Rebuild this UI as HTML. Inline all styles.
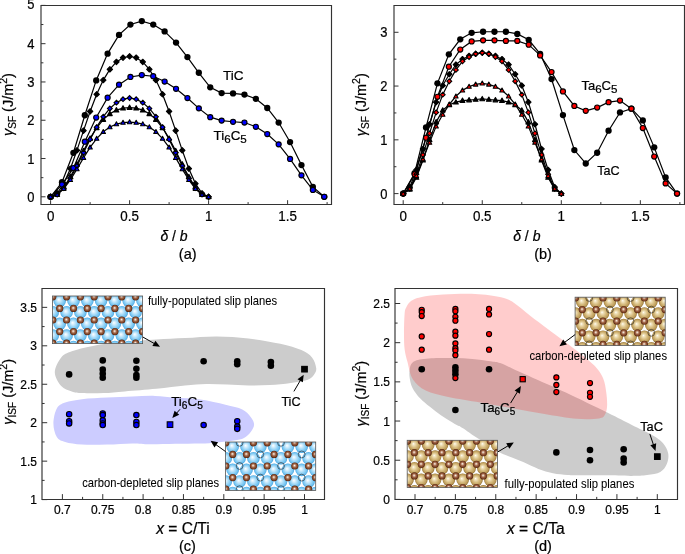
<!DOCTYPE html>
<html><head><meta charset="utf-8"><style>
html,body{margin:0;padding:0;background:#fff;width:685px;height:554px;overflow:hidden}
svg{display:block;will-change:transform}
text{font-family:"Liberation Sans",sans-serif;stroke:#000;stroke-width:0.22px}
</style></head><body>
<svg width="685" height="554" viewBox="0 0 685 554" font-family="Liberation Sans, sans-serif">
<defs>
<radialGradient id="gBlue" cx="0.5" cy="0.5" r="0.5" fx="0.42" fy="0.4">
<stop offset="0" stop-color="#ffffff"/><stop offset="0.15" stop-color="#e6f5fe"/><stop offset="0.5" stop-color="#a6dbf8"/><stop offset="0.85" stop-color="#6cc0f0"/><stop offset="1" stop-color="#4aa2dc"/></radialGradient>
<radialGradient id="gTan" cx="0.5" cy="0.5" r="0.5" fx="0.42" fy="0.4">
<stop offset="0" stop-color="#ffffff"/><stop offset="0.15" stop-color="#f4e8c6"/><stop offset="0.5" stop-color="#d9bf84"/><stop offset="0.85" stop-color="#bc9a56"/><stop offset="1" stop-color="#8e6e34"/></radialGradient>
<radialGradient id="gBrown" cx="0.5" cy="0.5" r="0.5" fx="0.45" fy="0.42">
<stop offset="0" stop-color="#fdf8f5"/><stop offset="0.2" stop-color="#dcbcaa"/><stop offset="0.5" stop-color="#a06646"/><stop offset="0.8" stop-color="#7c4026"/><stop offset="1" stop-color="#4e220c"/></radialGradient>
</defs>
<rect width="685" height="554" fill="#fff"/>
<line x1="41" y1="196.8" x2="45.5" y2="196.8" stroke="#333" stroke-width="1"/>
<text transform="translate(34.4,201.9) scale(0.9,1)" font-size="14.4" text-anchor="end" >0</text>
<line x1="41" y1="158.52" x2="45.5" y2="158.52" stroke="#333" stroke-width="1"/>
<text transform="translate(34.4,163.62) scale(0.9,1)" font-size="14.4" text-anchor="end" >1</text>
<line x1="41" y1="120.24" x2="45.5" y2="120.24" stroke="#333" stroke-width="1"/>
<text transform="translate(34.4,125.34) scale(0.9,1)" font-size="14.4" text-anchor="end" >2</text>
<line x1="41" y1="81.96" x2="45.5" y2="81.96" stroke="#333" stroke-width="1"/>
<text transform="translate(34.4,87.06) scale(0.9,1)" font-size="14.4" text-anchor="end" >3</text>
<line x1="41" y1="43.68" x2="45.5" y2="43.68" stroke="#333" stroke-width="1"/>
<text transform="translate(34.4,48.78) scale(0.9,1)" font-size="14.4" text-anchor="end" >4</text>
<line x1="41" y1="5.4" x2="45.5" y2="5.4" stroke="#333" stroke-width="1"/>
<text transform="translate(34.4,9.3) scale(0.9,1)" font-size="14.4" text-anchor="end" >5</text>
<line x1="41" y1="177.66" x2="43.4" y2="177.66" stroke="#333" stroke-width="1"/>
<line x1="41" y1="139.38" x2="43.4" y2="139.38" stroke="#333" stroke-width="1"/>
<line x1="41" y1="101.1" x2="43.4" y2="101.1" stroke="#333" stroke-width="1"/>
<line x1="41" y1="62.82" x2="43.4" y2="62.82" stroke="#333" stroke-width="1"/>
<line x1="41" y1="24.54" x2="43.4" y2="24.54" stroke="#333" stroke-width="1"/>
<line x1="50.6" y1="204.5" x2="50.6" y2="200.2" stroke="#333" stroke-width="1"/>
<text transform="translate(50.6,221.4) scale(0.93,1)" font-size="14.4" text-anchor="middle" >0</text>
<line x1="129.6" y1="204.5" x2="129.6" y2="200.2" stroke="#333" stroke-width="1"/>
<text transform="translate(129.6,221.4) scale(0.93,1)" font-size="14.4" text-anchor="middle" >0.5</text>
<line x1="208.6" y1="204.5" x2="208.6" y2="200.2" stroke="#333" stroke-width="1"/>
<text transform="translate(208.6,221.4) scale(0.93,1)" font-size="14.4" text-anchor="middle" >1</text>
<line x1="287.6" y1="204.5" x2="287.6" y2="200.2" stroke="#333" stroke-width="1"/>
<text transform="translate(287.6,221.4) scale(0.93,1)" font-size="14.4" text-anchor="middle" >1.5</text>
<line x1="90.1" y1="204.5" x2="90.1" y2="202.1" stroke="#333" stroke-width="1"/>
<line x1="169.1" y1="204.5" x2="169.1" y2="202.1" stroke="#333" stroke-width="1"/>
<line x1="248.1" y1="204.5" x2="248.1" y2="202.1" stroke="#333" stroke-width="1"/>
<line x1="327.1" y1="204.5" x2="327.1" y2="202.1" stroke="#333" stroke-width="1"/>
<path d="M41,4.9 V205 M40.4,204.5 H332 M331.5,205 V5 M332,5.5 H40.4" fill="none" stroke="#333" stroke-width="1.15"/>
<polyline points="50.6,196.8 62,182.25 73.41,152.78 84.81,115.26 96.21,80.43 107.61,53.63 119.02,34.88 130.42,24.54 141.82,21.09 153.22,24.54 164.63,31.43 176.03,42.53 187.43,57.08 198.83,72.77 210.24,87.32 221.64,93.06 233.04,93.44 244.45,94.59 255.85,98.8 267.25,107.99 278.65,122.54 290.06,142.06 301.46,165.03 312.86,186.85 324.26,196.8" fill="none" stroke="#000" stroke-width="1.2"/>
<circle cx="50.6" cy="196.8" r="3.15" fill="#000"/>
<circle cx="62" cy="182.25" r="3.15" fill="#000"/>
<circle cx="73.41" cy="152.78" r="3.15" fill="#000"/>
<circle cx="84.81" cy="115.26" r="3.15" fill="#000"/>
<circle cx="96.21" cy="80.43" r="3.15" fill="#000"/>
<circle cx="107.61" cy="53.63" r="3.15" fill="#000"/>
<circle cx="119.02" cy="34.88" r="3.15" fill="#000"/>
<circle cx="130.42" cy="24.54" r="3.15" fill="#000"/>
<circle cx="141.82" cy="21.09" r="3.15" fill="#000"/>
<circle cx="153.22" cy="24.54" r="3.15" fill="#000"/>
<circle cx="164.63" cy="31.43" r="3.15" fill="#000"/>
<circle cx="176.03" cy="42.53" r="3.15" fill="#000"/>
<circle cx="187.43" cy="57.08" r="3.15" fill="#000"/>
<circle cx="198.83" cy="72.77" r="3.15" fill="#000"/>
<circle cx="210.24" cy="87.32" r="3.15" fill="#000"/>
<circle cx="221.64" cy="93.06" r="3.15" fill="#000"/>
<circle cx="233.04" cy="93.44" r="3.15" fill="#000"/>
<circle cx="244.45" cy="94.59" r="3.15" fill="#000"/>
<circle cx="255.85" cy="98.8" r="3.15" fill="#000"/>
<circle cx="267.25" cy="107.99" r="3.15" fill="#000"/>
<circle cx="278.65" cy="122.54" r="3.15" fill="#000"/>
<circle cx="290.06" cy="142.06" r="3.15" fill="#000"/>
<circle cx="301.46" cy="165.03" r="3.15" fill="#000"/>
<circle cx="312.86" cy="186.85" r="3.15" fill="#000"/>
<circle cx="324.26" cy="196.8" r="3.15" fill="#000"/>
<polyline points="50.6,196.8 57.18,193.39 63.77,183.61 70.35,168.67 76.93,150.34 83.52,130.63 90.1,111.44 96.68,94.27 103.27,80.09 109.85,69.33 116.43,61.94 123.02,57.69 129.6,56.31 136.18,57.69 142.77,61.94 149.35,69.33 155.93,80.09 162.52,94.27 169.1,111.44 175.68,130.63 182.27,150.34 188.85,168.67 195.43,183.61 202.02,193.39 208.6,196.8" fill="none" stroke="#000" stroke-width="1.2"/>
<polygon points="50.6,194.1 53.3,196.8 50.6,199.5 47.9,196.8" fill="#000" stroke="#000" stroke-width="1.1" stroke-linejoin="round"/>
<polygon points="57.18,190.69 59.88,193.39 57.18,196.09 54.48,193.39" fill="#000" stroke="#000" stroke-width="1.1" stroke-linejoin="round"/>
<polygon points="63.77,180.91 66.47,183.61 63.77,186.31 61.07,183.61" fill="#000" stroke="#000" stroke-width="1.1" stroke-linejoin="round"/>
<polygon points="70.35,165.97 73.05,168.67 70.35,171.37 67.65,168.67" fill="#000" stroke="#000" stroke-width="1.1" stroke-linejoin="round"/>
<polygon points="76.93,147.64 79.63,150.34 76.93,153.04 74.23,150.34" fill="#000" stroke="#000" stroke-width="1.1" stroke-linejoin="round"/>
<polygon points="83.52,127.93 86.22,130.63 83.52,133.33 80.82,130.63" fill="#000" stroke="#000" stroke-width="1.1" stroke-linejoin="round"/>
<polygon points="90.1,108.74 92.8,111.44 90.1,114.14 87.4,111.44" fill="#000" stroke="#000" stroke-width="1.1" stroke-linejoin="round"/>
<polygon points="96.68,91.57 99.38,94.27 96.68,96.97 93.98,94.27" fill="#000" stroke="#000" stroke-width="1.1" stroke-linejoin="round"/>
<polygon points="103.27,77.39 105.97,80.09 103.27,82.79 100.57,80.09" fill="#000" stroke="#000" stroke-width="1.1" stroke-linejoin="round"/>
<polygon points="109.85,66.63 112.55,69.33 109.85,72.03 107.15,69.33" fill="#000" stroke="#000" stroke-width="1.1" stroke-linejoin="round"/>
<polygon points="116.43,59.24 119.13,61.94 116.43,64.64 113.73,61.94" fill="#000" stroke="#000" stroke-width="1.1" stroke-linejoin="round"/>
<polygon points="123.02,54.99 125.72,57.69 123.02,60.39 120.32,57.69" fill="#000" stroke="#000" stroke-width="1.1" stroke-linejoin="round"/>
<polygon points="129.6,53.61 132.3,56.31 129.6,59.01 126.9,56.31" fill="#000" stroke="#000" stroke-width="1.1" stroke-linejoin="round"/>
<polygon points="136.18,54.99 138.88,57.69 136.18,60.39 133.48,57.69" fill="#000" stroke="#000" stroke-width="1.1" stroke-linejoin="round"/>
<polygon points="142.77,59.24 145.47,61.94 142.77,64.64 140.07,61.94" fill="#000" stroke="#000" stroke-width="1.1" stroke-linejoin="round"/>
<polygon points="149.35,66.63 152.05,69.33 149.35,72.03 146.65,69.33" fill="#000" stroke="#000" stroke-width="1.1" stroke-linejoin="round"/>
<polygon points="155.93,77.39 158.63,80.09 155.93,82.79 153.23,80.09" fill="#000" stroke="#000" stroke-width="1.1" stroke-linejoin="round"/>
<polygon points="162.52,91.57 165.22,94.27 162.52,96.97 159.82,94.27" fill="#000" stroke="#000" stroke-width="1.1" stroke-linejoin="round"/>
<polygon points="169.1,108.74 171.8,111.44 169.1,114.14 166.4,111.44" fill="#000" stroke="#000" stroke-width="1.1" stroke-linejoin="round"/>
<polygon points="175.68,127.93 178.38,130.63 175.68,133.33 172.98,130.63" fill="#000" stroke="#000" stroke-width="1.1" stroke-linejoin="round"/>
<polygon points="182.27,147.64 184.97,150.34 182.27,153.04 179.57,150.34" fill="#000" stroke="#000" stroke-width="1.1" stroke-linejoin="round"/>
<polygon points="188.85,165.97 191.55,168.67 188.85,171.37 186.15,168.67" fill="#000" stroke="#000" stroke-width="1.1" stroke-linejoin="round"/>
<polygon points="195.43,180.91 198.13,183.61 195.43,186.31 192.73,183.61" fill="#000" stroke="#000" stroke-width="1.1" stroke-linejoin="round"/>
<polygon points="202.02,190.69 204.72,193.39 202.02,196.09 199.32,193.39" fill="#000" stroke="#000" stroke-width="1.1" stroke-linejoin="round"/>
<polygon points="208.6,194.1 211.3,196.8 208.6,199.5 205.9,196.8" fill="#000" stroke="#000" stroke-width="1.1" stroke-linejoin="round"/>
<polyline points="50.6,196.8 57.18,194.36 63.77,187.38 70.35,176.85 76.93,164.17 83.52,150.89 90.1,138.42 96.68,127.8 103.27,119.57 109.85,113.78 116.43,110.14 123.02,108.2 129.6,107.61 136.18,108.2 142.77,110.14 149.35,113.78 155.93,119.57 162.52,127.8 169.1,138.42 175.68,150.89 182.27,164.17 188.85,176.85 195.43,187.38 202.02,194.36 208.6,196.8" fill="none" stroke="#000" stroke-width="1.2"/>
<polygon points="50.6,194.28 53,198.6 48.2,198.6" fill="#000" stroke="#000" stroke-width="1.1" stroke-linejoin="round"/>
<polygon points="57.18,191.84 59.58,196.16 54.78,196.16" fill="#000" stroke="#000" stroke-width="1.1" stroke-linejoin="round"/>
<polygon points="63.77,184.86 66.17,189.18 61.37,189.18" fill="#000" stroke="#000" stroke-width="1.1" stroke-linejoin="round"/>
<polygon points="70.35,174.33 72.75,178.65 67.95,178.65" fill="#000" stroke="#000" stroke-width="1.1" stroke-linejoin="round"/>
<polygon points="76.93,161.65 79.33,165.97 74.53,165.97" fill="#000" stroke="#000" stroke-width="1.1" stroke-linejoin="round"/>
<polygon points="83.52,148.37 85.92,152.69 81.12,152.69" fill="#000" stroke="#000" stroke-width="1.1" stroke-linejoin="round"/>
<polygon points="90.1,135.9 92.5,140.22 87.7,140.22" fill="#000" stroke="#000" stroke-width="1.1" stroke-linejoin="round"/>
<polygon points="96.68,125.28 99.08,129.6 94.28,129.6" fill="#000" stroke="#000" stroke-width="1.1" stroke-linejoin="round"/>
<polygon points="103.27,117.05 105.67,121.37 100.87,121.37" fill="#000" stroke="#000" stroke-width="1.1" stroke-linejoin="round"/>
<polygon points="109.85,111.26 112.25,115.58 107.45,115.58" fill="#000" stroke="#000" stroke-width="1.1" stroke-linejoin="round"/>
<polygon points="116.43,107.62 118.83,111.94 114.03,111.94" fill="#000" stroke="#000" stroke-width="1.1" stroke-linejoin="round"/>
<polygon points="123.02,105.68 125.42,110 120.62,110" fill="#000" stroke="#000" stroke-width="1.1" stroke-linejoin="round"/>
<polygon points="129.6,105.09 132,109.41 127.2,109.41" fill="#000" stroke="#000" stroke-width="1.1" stroke-linejoin="round"/>
<polygon points="136.18,105.68 138.58,110 133.78,110" fill="#000" stroke="#000" stroke-width="1.1" stroke-linejoin="round"/>
<polygon points="142.77,107.62 145.17,111.94 140.37,111.94" fill="#000" stroke="#000" stroke-width="1.1" stroke-linejoin="round"/>
<polygon points="149.35,111.26 151.75,115.58 146.95,115.58" fill="#000" stroke="#000" stroke-width="1.1" stroke-linejoin="round"/>
<polygon points="155.93,117.05 158.33,121.37 153.53,121.37" fill="#000" stroke="#000" stroke-width="1.1" stroke-linejoin="round"/>
<polygon points="162.52,125.28 164.92,129.6 160.12,129.6" fill="#000" stroke="#000" stroke-width="1.1" stroke-linejoin="round"/>
<polygon points="169.1,135.9 171.5,140.22 166.7,140.22" fill="#000" stroke="#000" stroke-width="1.1" stroke-linejoin="round"/>
<polygon points="175.68,148.37 178.08,152.69 173.28,152.69" fill="#000" stroke="#000" stroke-width="1.1" stroke-linejoin="round"/>
<polygon points="182.27,161.65 184.67,165.97 179.87,165.97" fill="#000" stroke="#000" stroke-width="1.1" stroke-linejoin="round"/>
<polygon points="188.85,174.33 191.25,178.65 186.45,178.65" fill="#000" stroke="#000" stroke-width="1.1" stroke-linejoin="round"/>
<polygon points="195.43,184.86 197.83,189.18 193.03,189.18" fill="#000" stroke="#000" stroke-width="1.1" stroke-linejoin="round"/>
<polygon points="202.02,191.84 204.42,196.16 199.62,196.16" fill="#000" stroke="#000" stroke-width="1.1" stroke-linejoin="round"/>
<polygon points="208.6,194.28 211,198.6 206.2,198.6" fill="#000" stroke="#000" stroke-width="1.1" stroke-linejoin="round"/>
<polyline points="50.6,196.8 62,184.55 73.41,168.09 84.81,141.68 96.21,117.56 107.61,97.65 119.02,84.64 130.42,76.98 141.82,75.07 153.22,76.22 164.63,81.58 176.03,88.85 187.43,98.04 198.83,108.37 210.24,117.18 221.64,120.62 233.04,121.77 244.45,122.54 255.85,126.75 267.25,134.02 278.65,144.36 290.06,158.9 301.46,175.36 312.86,189.91 324.26,196.8" fill="none" stroke="#000" stroke-width="1.2"/>
<circle cx="50.6" cy="196.8" r="2.55" fill="#0000ff" stroke="#000" stroke-width="1.15"/>
<circle cx="62" cy="184.55" r="2.55" fill="#0000ff" stroke="#000" stroke-width="1.15"/>
<circle cx="73.41" cy="168.09" r="2.55" fill="#0000ff" stroke="#000" stroke-width="1.15"/>
<circle cx="84.81" cy="141.68" r="2.55" fill="#0000ff" stroke="#000" stroke-width="1.15"/>
<circle cx="96.21" cy="117.56" r="2.55" fill="#0000ff" stroke="#000" stroke-width="1.15"/>
<circle cx="107.61" cy="97.65" r="2.55" fill="#0000ff" stroke="#000" stroke-width="1.15"/>
<circle cx="119.02" cy="84.64" r="2.55" fill="#0000ff" stroke="#000" stroke-width="1.15"/>
<circle cx="130.42" cy="76.98" r="2.55" fill="#0000ff" stroke="#000" stroke-width="1.15"/>
<circle cx="141.82" cy="75.07" r="2.55" fill="#0000ff" stroke="#000" stroke-width="1.15"/>
<circle cx="153.22" cy="76.22" r="2.55" fill="#0000ff" stroke="#000" stroke-width="1.15"/>
<circle cx="164.63" cy="81.58" r="2.55" fill="#0000ff" stroke="#000" stroke-width="1.15"/>
<circle cx="176.03" cy="88.85" r="2.55" fill="#0000ff" stroke="#000" stroke-width="1.15"/>
<circle cx="187.43" cy="98.04" r="2.55" fill="#0000ff" stroke="#000" stroke-width="1.15"/>
<circle cx="198.83" cy="108.37" r="2.55" fill="#0000ff" stroke="#000" stroke-width="1.15"/>
<circle cx="210.24" cy="117.18" r="2.55" fill="#0000ff" stroke="#000" stroke-width="1.15"/>
<circle cx="221.64" cy="120.62" r="2.55" fill="#0000ff" stroke="#000" stroke-width="1.15"/>
<circle cx="233.04" cy="121.77" r="2.55" fill="#0000ff" stroke="#000" stroke-width="1.15"/>
<circle cx="244.45" cy="122.54" r="2.55" fill="#0000ff" stroke="#000" stroke-width="1.15"/>
<circle cx="255.85" cy="126.75" r="2.55" fill="#0000ff" stroke="#000" stroke-width="1.15"/>
<circle cx="267.25" cy="134.02" r="2.55" fill="#0000ff" stroke="#000" stroke-width="1.15"/>
<circle cx="278.65" cy="144.36" r="2.55" fill="#0000ff" stroke="#000" stroke-width="1.15"/>
<circle cx="290.06" cy="158.9" r="2.55" fill="#0000ff" stroke="#000" stroke-width="1.15"/>
<circle cx="301.46" cy="175.36" r="2.55" fill="#0000ff" stroke="#000" stroke-width="1.15"/>
<circle cx="312.86" cy="189.91" r="2.55" fill="#0000ff" stroke="#000" stroke-width="1.15"/>
<circle cx="324.26" cy="196.8" r="2.55" fill="#0000ff" stroke="#000" stroke-width="1.15"/>
<polyline points="50.6,196.8 57.18,194.58 63.77,188.17 70.35,178.32 76.93,166.08 83.52,152.7 90.1,139.38 96.68,127.14 103.27,116.7 109.85,108.48 116.43,102.64 123.02,99.18 129.6,98.04 136.18,99.18 142.77,102.64 149.35,108.48 155.93,116.7 162.52,127.14 169.1,139.38 175.68,152.7 182.27,166.08 188.85,178.32 195.43,188.17 202.02,194.58 208.6,196.8" fill="none" stroke="#000" stroke-width="1.2"/>
<polygon points="50.6,194.4 53,196.8 50.6,199.2 48.2,196.8" fill="#0000ff" stroke="#000" stroke-width="1.1"/>
<polygon points="57.18,192.18 59.58,194.58 57.18,196.98 54.78,194.58" fill="#0000ff" stroke="#000" stroke-width="1.1"/>
<polygon points="63.77,185.77 66.17,188.17 63.77,190.57 61.37,188.17" fill="#0000ff" stroke="#000" stroke-width="1.1"/>
<polygon points="70.35,175.92 72.75,178.32 70.35,180.72 67.95,178.32" fill="#0000ff" stroke="#000" stroke-width="1.1"/>
<polygon points="76.93,163.68 79.33,166.08 76.93,168.48 74.53,166.08" fill="#0000ff" stroke="#000" stroke-width="1.1"/>
<polygon points="83.52,150.3 85.92,152.7 83.52,155.1 81.12,152.7" fill="#0000ff" stroke="#000" stroke-width="1.1"/>
<polygon points="90.1,136.98 92.5,139.38 90.1,141.78 87.7,139.38" fill="#0000ff" stroke="#000" stroke-width="1.1"/>
<polygon points="96.68,124.74 99.08,127.14 96.68,129.54 94.28,127.14" fill="#0000ff" stroke="#000" stroke-width="1.1"/>
<polygon points="103.27,114.3 105.67,116.7 103.27,119.1 100.87,116.7" fill="#0000ff" stroke="#000" stroke-width="1.1"/>
<polygon points="109.85,106.08 112.25,108.48 109.85,110.88 107.45,108.48" fill="#0000ff" stroke="#000" stroke-width="1.1"/>
<polygon points="116.43,100.24 118.83,102.64 116.43,105.04 114.03,102.64" fill="#0000ff" stroke="#000" stroke-width="1.1"/>
<polygon points="123.02,96.78 125.42,99.18 123.02,101.58 120.62,99.18" fill="#0000ff" stroke="#000" stroke-width="1.1"/>
<polygon points="129.6,95.64 132,98.04 129.6,100.44 127.2,98.04" fill="#0000ff" stroke="#000" stroke-width="1.1"/>
<polygon points="136.18,96.78 138.58,99.18 136.18,101.58 133.78,99.18" fill="#0000ff" stroke="#000" stroke-width="1.1"/>
<polygon points="142.77,100.24 145.17,102.64 142.77,105.04 140.37,102.64" fill="#0000ff" stroke="#000" stroke-width="1.1"/>
<polygon points="149.35,106.08 151.75,108.48 149.35,110.88 146.95,108.48" fill="#0000ff" stroke="#000" stroke-width="1.1"/>
<polygon points="155.93,114.3 158.33,116.7 155.93,119.1 153.53,116.7" fill="#0000ff" stroke="#000" stroke-width="1.1"/>
<polygon points="162.52,124.74 164.92,127.14 162.52,129.54 160.12,127.14" fill="#0000ff" stroke="#000" stroke-width="1.1"/>
<polygon points="169.1,136.98 171.5,139.38 169.1,141.78 166.7,139.38" fill="#0000ff" stroke="#000" stroke-width="1.1"/>
<polygon points="175.68,150.3 178.08,152.7 175.68,155.1 173.28,152.7" fill="#0000ff" stroke="#000" stroke-width="1.1"/>
<polygon points="182.27,163.68 184.67,166.08 182.27,168.48 179.87,166.08" fill="#0000ff" stroke="#000" stroke-width="1.1"/>
<polygon points="188.85,175.92 191.25,178.32 188.85,180.72 186.45,178.32" fill="#0000ff" stroke="#000" stroke-width="1.1"/>
<polygon points="195.43,185.77 197.83,188.17 195.43,190.57 193.03,188.17" fill="#0000ff" stroke="#000" stroke-width="1.1"/>
<polygon points="202.02,192.18 204.42,194.58 202.02,196.98 199.62,194.58" fill="#0000ff" stroke="#000" stroke-width="1.1"/>
<polygon points="208.6,194.4 211,196.8 208.6,199.2 206.2,196.8" fill="#0000ff" stroke="#000" stroke-width="1.1"/>
<polyline points="50.6,196.8 57.18,194.72 63.77,188.79 70.35,179.84 76.93,169.09 83.52,157.89 90.1,147.42 96.68,138.57 103.27,131.77 109.85,127.06 116.43,124.14 123.02,122.62 129.6,122.15 136.18,122.62 142.77,124.14 149.35,127.06 155.93,131.77 162.52,138.57 169.1,147.42 175.68,157.89 182.27,169.09 188.85,179.84 195.43,188.79 202.02,194.72 208.6,196.8" fill="none" stroke="#000" stroke-width="1.2"/>
<polygon points="50.6,194.49 52.8,198.45 48.4,198.45" fill="#0000ff" stroke="#000" stroke-width="1.1" stroke-linejoin="round"/>
<polygon points="57.18,192.41 59.38,196.37 54.98,196.37" fill="#0000ff" stroke="#000" stroke-width="1.1" stroke-linejoin="round"/>
<polygon points="63.77,186.48 65.97,190.44 61.57,190.44" fill="#0000ff" stroke="#000" stroke-width="1.1" stroke-linejoin="round"/>
<polygon points="70.35,177.53 72.55,181.49 68.15,181.49" fill="#0000ff" stroke="#000" stroke-width="1.1" stroke-linejoin="round"/>
<polygon points="76.93,166.78 79.13,170.74 74.73,170.74" fill="#0000ff" stroke="#000" stroke-width="1.1" stroke-linejoin="round"/>
<polygon points="83.52,155.58 85.72,159.54 81.32,159.54" fill="#0000ff" stroke="#000" stroke-width="1.1" stroke-linejoin="round"/>
<polygon points="90.1,145.11 92.3,149.07 87.9,149.07" fill="#0000ff" stroke="#000" stroke-width="1.1" stroke-linejoin="round"/>
<polygon points="96.68,136.26 98.88,140.22 94.48,140.22" fill="#0000ff" stroke="#000" stroke-width="1.1" stroke-linejoin="round"/>
<polygon points="103.27,129.46 105.47,133.42 101.07,133.42" fill="#0000ff" stroke="#000" stroke-width="1.1" stroke-linejoin="round"/>
<polygon points="109.85,124.75 112.05,128.71 107.65,128.71" fill="#0000ff" stroke="#000" stroke-width="1.1" stroke-linejoin="round"/>
<polygon points="116.43,121.83 118.63,125.79 114.23,125.79" fill="#0000ff" stroke="#000" stroke-width="1.1" stroke-linejoin="round"/>
<polygon points="123.02,120.31 125.22,124.27 120.82,124.27" fill="#0000ff" stroke="#000" stroke-width="1.1" stroke-linejoin="round"/>
<polygon points="129.6,119.84 131.8,123.8 127.4,123.8" fill="#0000ff" stroke="#000" stroke-width="1.1" stroke-linejoin="round"/>
<polygon points="136.18,120.31 138.38,124.27 133.98,124.27" fill="#0000ff" stroke="#000" stroke-width="1.1" stroke-linejoin="round"/>
<polygon points="142.77,121.83 144.97,125.79 140.57,125.79" fill="#0000ff" stroke="#000" stroke-width="1.1" stroke-linejoin="round"/>
<polygon points="149.35,124.75 151.55,128.71 147.15,128.71" fill="#0000ff" stroke="#000" stroke-width="1.1" stroke-linejoin="round"/>
<polygon points="155.93,129.46 158.13,133.42 153.73,133.42" fill="#0000ff" stroke="#000" stroke-width="1.1" stroke-linejoin="round"/>
<polygon points="162.52,136.26 164.72,140.22 160.32,140.22" fill="#0000ff" stroke="#000" stroke-width="1.1" stroke-linejoin="round"/>
<polygon points="169.1,145.11 171.3,149.07 166.9,149.07" fill="#0000ff" stroke="#000" stroke-width="1.1" stroke-linejoin="round"/>
<polygon points="175.68,155.58 177.88,159.54 173.48,159.54" fill="#0000ff" stroke="#000" stroke-width="1.1" stroke-linejoin="round"/>
<polygon points="182.27,166.78 184.47,170.74 180.07,170.74" fill="#0000ff" stroke="#000" stroke-width="1.1" stroke-linejoin="round"/>
<polygon points="188.85,177.53 191.05,181.49 186.65,181.49" fill="#0000ff" stroke="#000" stroke-width="1.1" stroke-linejoin="round"/>
<polygon points="195.43,186.48 197.63,190.44 193.23,190.44" fill="#0000ff" stroke="#000" stroke-width="1.1" stroke-linejoin="round"/>
<polygon points="202.02,192.41 204.22,196.37 199.82,196.37" fill="#0000ff" stroke="#000" stroke-width="1.1" stroke-linejoin="round"/>
<polygon points="208.6,194.49 210.8,198.45 206.4,198.45" fill="#0000ff" stroke="#000" stroke-width="1.1" stroke-linejoin="round"/>
<text x="223" y="79.8" font-size="13.5" text-anchor="start" >TiC</text>
<text x="213.6" y="140.4" font-size="13.3">Ti<tspan font-size="11.6" dy="2.9">6</tspan><tspan dy="-2.9">C</tspan><tspan font-size="11.6" dy="2.9">5</tspan></text>
<text transform="translate(12.8,104.5) rotate(-90)" font-size="14.5" text-anchor="middle"><tspan font-style="italic">γ</tspan><tspan font-size="10" dy="3">SF</tspan><tspan dy="-3"> (J/m</tspan><tspan font-size="10.5" dy="-6">2</tspan><tspan dy="6">)</tspan></text>
<text x="174" y="241.3" font-size="14" text-anchor="middle" font-style="italic">δ<tspan font-style="normal"> / </tspan>b</text>
<text x="187.7" y="258.8" font-size="14.5" text-anchor="middle" >(a)</text>
<line x1="394" y1="193.6" x2="398.5" y2="193.6" stroke="#333" stroke-width="1"/>
<text transform="translate(387.4,198.7) scale(0.9,1)" font-size="14.4" text-anchor="end" >0</text>
<line x1="394" y1="139.83" x2="398.5" y2="139.83" stroke="#333" stroke-width="1"/>
<text transform="translate(387.4,144.93) scale(0.9,1)" font-size="14.4" text-anchor="end" >1</text>
<line x1="394" y1="86.06" x2="398.5" y2="86.06" stroke="#333" stroke-width="1"/>
<text transform="translate(387.4,91.16) scale(0.9,1)" font-size="14.4" text-anchor="end" >2</text>
<line x1="394" y1="32.29" x2="398.5" y2="32.29" stroke="#333" stroke-width="1"/>
<text transform="translate(387.4,37.39) scale(0.9,1)" font-size="14.4" text-anchor="end" >3</text>
<line x1="394" y1="166.72" x2="396.4" y2="166.72" stroke="#333" stroke-width="1"/>
<line x1="394" y1="112.94" x2="396.4" y2="112.94" stroke="#333" stroke-width="1"/>
<line x1="394" y1="59.17" x2="396.4" y2="59.17" stroke="#333" stroke-width="1"/>
<line x1="403.2" y1="204.5" x2="403.2" y2="200.2" stroke="#333" stroke-width="1"/>
<text transform="translate(403.2,221.4) scale(0.93,1)" font-size="14.4" text-anchor="middle" >0</text>
<line x1="482.25" y1="204.5" x2="482.25" y2="200.2" stroke="#333" stroke-width="1"/>
<text transform="translate(482.25,221.4) scale(0.93,1)" font-size="14.4" text-anchor="middle" >0.5</text>
<line x1="561.3" y1="204.5" x2="561.3" y2="200.2" stroke="#333" stroke-width="1"/>
<text transform="translate(561.3,221.4) scale(0.93,1)" font-size="14.4" text-anchor="middle" >1</text>
<line x1="640.35" y1="204.5" x2="640.35" y2="200.2" stroke="#333" stroke-width="1"/>
<text transform="translate(640.35,221.4) scale(0.93,1)" font-size="14.4" text-anchor="middle" >1.5</text>
<line x1="442.72" y1="204.5" x2="442.72" y2="202.1" stroke="#333" stroke-width="1"/>
<line x1="521.77" y1="204.5" x2="521.77" y2="202.1" stroke="#333" stroke-width="1"/>
<line x1="600.83" y1="204.5" x2="600.83" y2="202.1" stroke="#333" stroke-width="1"/>
<line x1="679.88" y1="204.5" x2="679.88" y2="202.1" stroke="#333" stroke-width="1"/>
<path d="M394,4.9 V205 M393.4,204.5 H685 M684.5,205 V5 M685,5.5 H393.4" fill="none" stroke="#333" stroke-width="1.15"/>
<polyline points="403.2,193.6 414.61,173.17 426.02,127.46 437.43,83.37 448.84,54.34 460.25,39.28 471.66,32.83 483.07,31.75 494.48,31.75 505.89,31.75 517.3,33.9 528.71,39.82 540.12,53.8 551.53,79.07 562.94,115.1 574.35,150.05 585.76,163.49 597.17,152.73 608.58,130.69 619.99,112.41 631.4,108.64 642.81,120.47 654.22,147.36 665.63,177.47 677.04,193.6" fill="none" stroke="#000" stroke-width="1.2"/>
<circle cx="403.2" cy="193.6" r="3.15" fill="#000"/>
<circle cx="414.61" cy="173.17" r="3.15" fill="#000"/>
<circle cx="426.02" cy="127.46" r="3.15" fill="#000"/>
<circle cx="437.43" cy="83.37" r="3.15" fill="#000"/>
<circle cx="448.84" cy="54.34" r="3.15" fill="#000"/>
<circle cx="460.25" cy="39.28" r="3.15" fill="#000"/>
<circle cx="471.66" cy="32.83" r="3.15" fill="#000"/>
<circle cx="483.07" cy="31.75" r="3.15" fill="#000"/>
<circle cx="494.48" cy="31.75" r="3.15" fill="#000"/>
<circle cx="505.89" cy="31.75" r="3.15" fill="#000"/>
<circle cx="517.3" cy="33.9" r="3.15" fill="#000"/>
<circle cx="528.71" cy="39.82" r="3.15" fill="#000"/>
<circle cx="540.12" cy="53.8" r="3.15" fill="#000"/>
<circle cx="551.53" cy="79.07" r="3.15" fill="#000"/>
<circle cx="562.94" cy="115.1" r="3.15" fill="#000"/>
<circle cx="574.35" cy="150.05" r="3.15" fill="#000"/>
<circle cx="585.76" cy="163.49" r="3.15" fill="#000"/>
<circle cx="597.17" cy="152.73" r="3.15" fill="#000"/>
<circle cx="608.58" cy="130.69" r="3.15" fill="#000"/>
<circle cx="619.99" cy="112.41" r="3.15" fill="#000"/>
<circle cx="631.4" cy="108.64" r="3.15" fill="#000"/>
<circle cx="642.81" cy="120.47" r="3.15" fill="#000"/>
<circle cx="654.22" cy="147.36" r="3.15" fill="#000"/>
<circle cx="665.63" cy="177.47" r="3.15" fill="#000"/>
<circle cx="677.04" cy="193.6" r="3.15" fill="#000"/>
<polyline points="403.2,193.6 409.79,187.15 416.38,169.94 422.96,148.97 429.55,124.24 436.14,102.19 442.72,85.52 449.31,74.23 455.9,64.55 462.49,59.17 469.07,55.95 475.66,53.8 482.25,52.72 488.84,53.8 495.43,55.95 502.01,59.17 508.6,64.55 515.19,74.23 521.77,85.52 528.36,102.19 534.95,124.24 541.54,148.97 548.12,169.94 554.71,187.15 561.3,193.6" fill="none" stroke="#000" stroke-width="1.2"/>
<polygon points="403.2,190.9 405.9,193.6 403.2,196.3 400.5,193.6" fill="#000" stroke="#000" stroke-width="1.1" stroke-linejoin="round"/>
<polygon points="409.79,184.45 412.49,187.15 409.79,189.85 407.09,187.15" fill="#000" stroke="#000" stroke-width="1.1" stroke-linejoin="round"/>
<polygon points="416.38,167.24 419.07,169.94 416.38,172.64 413.68,169.94" fill="#000" stroke="#000" stroke-width="1.1" stroke-linejoin="round"/>
<polygon points="422.96,146.27 425.66,148.97 422.96,151.67 420.26,148.97" fill="#000" stroke="#000" stroke-width="1.1" stroke-linejoin="round"/>
<polygon points="429.55,121.54 432.25,124.24 429.55,126.94 426.85,124.24" fill="#000" stroke="#000" stroke-width="1.1" stroke-linejoin="round"/>
<polygon points="436.14,99.49 438.84,102.19 436.14,104.89 433.44,102.19" fill="#000" stroke="#000" stroke-width="1.1" stroke-linejoin="round"/>
<polygon points="442.72,82.82 445.42,85.52 442.72,88.22 440.02,85.52" fill="#000" stroke="#000" stroke-width="1.1" stroke-linejoin="round"/>
<polygon points="449.31,71.53 452.01,74.23 449.31,76.93 446.61,74.23" fill="#000" stroke="#000" stroke-width="1.1" stroke-linejoin="round"/>
<polygon points="455.9,61.85 458.6,64.55 455.9,67.25 453.2,64.55" fill="#000" stroke="#000" stroke-width="1.1" stroke-linejoin="round"/>
<polygon points="462.49,56.47 465.19,59.17 462.49,61.87 459.79,59.17" fill="#000" stroke="#000" stroke-width="1.1" stroke-linejoin="round"/>
<polygon points="469.07,53.25 471.77,55.95 469.07,58.65 466.38,55.95" fill="#000" stroke="#000" stroke-width="1.1" stroke-linejoin="round"/>
<polygon points="475.66,51.1 478.36,53.8 475.66,56.5 472.96,53.8" fill="#000" stroke="#000" stroke-width="1.1" stroke-linejoin="round"/>
<polygon points="482.25,50.02 484.95,52.72 482.25,55.42 479.55,52.72" fill="#000" stroke="#000" stroke-width="1.1" stroke-linejoin="round"/>
<polygon points="488.84,51.1 491.54,53.8 488.84,56.5 486.14,53.8" fill="#000" stroke="#000" stroke-width="1.1" stroke-linejoin="round"/>
<polygon points="495.43,53.25 498.12,55.95 495.43,58.65 492.73,55.95" fill="#000" stroke="#000" stroke-width="1.1" stroke-linejoin="round"/>
<polygon points="502.01,56.47 504.71,59.17 502.01,61.87 499.31,59.17" fill="#000" stroke="#000" stroke-width="1.1" stroke-linejoin="round"/>
<polygon points="508.6,61.85 511.3,64.55 508.6,67.25 505.9,64.55" fill="#000" stroke="#000" stroke-width="1.1" stroke-linejoin="round"/>
<polygon points="515.19,71.53 517.89,74.23 515.19,76.93 512.49,74.23" fill="#000" stroke="#000" stroke-width="1.1" stroke-linejoin="round"/>
<polygon points="521.77,82.82 524.48,85.52 521.77,88.22 519.07,85.52" fill="#000" stroke="#000" stroke-width="1.1" stroke-linejoin="round"/>
<polygon points="528.36,99.49 531.06,102.19 528.36,104.89 525.66,102.19" fill="#000" stroke="#000" stroke-width="1.1" stroke-linejoin="round"/>
<polygon points="534.95,121.54 537.65,124.24 534.95,126.94 532.25,124.24" fill="#000" stroke="#000" stroke-width="1.1" stroke-linejoin="round"/>
<polygon points="541.54,146.27 544.24,148.97 541.54,151.67 538.84,148.97" fill="#000" stroke="#000" stroke-width="1.1" stroke-linejoin="round"/>
<polygon points="548.12,167.24 550.83,169.94 548.12,172.64 545.42,169.94" fill="#000" stroke="#000" stroke-width="1.1" stroke-linejoin="round"/>
<polygon points="554.71,184.45 557.41,187.15 554.71,189.85 552.01,187.15" fill="#000" stroke="#000" stroke-width="1.1" stroke-linejoin="round"/>
<polygon points="561.3,190.9 564,193.6 561.3,196.3 558.6,193.6" fill="#000" stroke="#000" stroke-width="1.1" stroke-linejoin="round"/>
<polyline points="403.2,193.6 409.79,189.3 416.38,177.47 422.96,160.26 429.55,139.83 436.14,122.09 442.72,110.26 449.31,104.88 455.9,102.19 462.49,100.58 469.07,100.04 475.66,99.5 482.25,98.96 488.84,99.5 495.43,100.04 502.01,100.58 508.6,102.19 515.19,104.88 521.77,110.26 528.36,122.09 534.95,139.83 541.54,160.26 548.12,177.47 554.71,189.3 561.3,193.6" fill="none" stroke="#000" stroke-width="1.2"/>
<polygon points="403.2,191.08 405.6,195.4 400.8,195.4" fill="#000" stroke="#000" stroke-width="1.1" stroke-linejoin="round"/>
<polygon points="409.79,186.78 412.19,191.1 407.39,191.1" fill="#000" stroke="#000" stroke-width="1.1" stroke-linejoin="round"/>
<polygon points="416.38,174.95 418.77,179.27 413.98,179.27" fill="#000" stroke="#000" stroke-width="1.1" stroke-linejoin="round"/>
<polygon points="422.96,157.74 425.36,162.06 420.56,162.06" fill="#000" stroke="#000" stroke-width="1.1" stroke-linejoin="round"/>
<polygon points="429.55,137.31 431.95,141.63 427.15,141.63" fill="#000" stroke="#000" stroke-width="1.1" stroke-linejoin="round"/>
<polygon points="436.14,119.57 438.54,123.89 433.74,123.89" fill="#000" stroke="#000" stroke-width="1.1" stroke-linejoin="round"/>
<polygon points="442.72,107.74 445.12,112.06 440.32,112.06" fill="#000" stroke="#000" stroke-width="1.1" stroke-linejoin="round"/>
<polygon points="449.31,102.36 451.71,106.68 446.91,106.68" fill="#000" stroke="#000" stroke-width="1.1" stroke-linejoin="round"/>
<polygon points="455.9,99.67 458.3,103.99 453.5,103.99" fill="#000" stroke="#000" stroke-width="1.1" stroke-linejoin="round"/>
<polygon points="462.49,98.06 464.89,102.38 460.09,102.38" fill="#000" stroke="#000" stroke-width="1.1" stroke-linejoin="round"/>
<polygon points="469.07,97.52 471.47,101.84 466.68,101.84" fill="#000" stroke="#000" stroke-width="1.1" stroke-linejoin="round"/>
<polygon points="475.66,96.98 478.06,101.3 473.26,101.3" fill="#000" stroke="#000" stroke-width="1.1" stroke-linejoin="round"/>
<polygon points="482.25,96.44 484.65,100.76 479.85,100.76" fill="#000" stroke="#000" stroke-width="1.1" stroke-linejoin="round"/>
<polygon points="488.84,96.98 491.24,101.3 486.44,101.3" fill="#000" stroke="#000" stroke-width="1.1" stroke-linejoin="round"/>
<polygon points="495.43,97.52 497.82,101.84 493.03,101.84" fill="#000" stroke="#000" stroke-width="1.1" stroke-linejoin="round"/>
<polygon points="502.01,98.06 504.41,102.38 499.61,102.38" fill="#000" stroke="#000" stroke-width="1.1" stroke-linejoin="round"/>
<polygon points="508.6,99.67 511,103.99 506.2,103.99" fill="#000" stroke="#000" stroke-width="1.1" stroke-linejoin="round"/>
<polygon points="515.19,102.36 517.59,106.68 512.79,106.68" fill="#000" stroke="#000" stroke-width="1.1" stroke-linejoin="round"/>
<polygon points="521.77,107.74 524.17,112.06 519.38,112.06" fill="#000" stroke="#000" stroke-width="1.1" stroke-linejoin="round"/>
<polygon points="528.36,119.57 530.76,123.89 525.96,123.89" fill="#000" stroke="#000" stroke-width="1.1" stroke-linejoin="round"/>
<polygon points="534.95,137.31 537.35,141.63 532.55,141.63" fill="#000" stroke="#000" stroke-width="1.1" stroke-linejoin="round"/>
<polygon points="541.54,157.74 543.94,162.06 539.14,162.06" fill="#000" stroke="#000" stroke-width="1.1" stroke-linejoin="round"/>
<polygon points="548.12,174.95 550.52,179.27 545.73,179.27" fill="#000" stroke="#000" stroke-width="1.1" stroke-linejoin="round"/>
<polygon points="554.71,186.78 557.11,191.1 552.31,191.1" fill="#000" stroke="#000" stroke-width="1.1" stroke-linejoin="round"/>
<polygon points="561.3,191.08 563.7,195.4 558.9,195.4" fill="#000" stroke="#000" stroke-width="1.1" stroke-linejoin="round"/>
<polyline points="403.2,193.6 414.61,174.24 426.02,137.68 437.43,96.81 448.84,66.7 460.25,49.5 471.66,41.43 483.07,40.36 494.48,40.36 505.89,40.89 517.3,40.89 528.71,44.66 540.12,55.41 551.53,72.08 562.94,91.44 574.35,105.95 585.76,110.79 597.17,107.57 608.58,102.19 619.99,100.58 631.4,108.64 642.81,128 654.22,156.5 665.63,183.38 677.04,193.6" fill="none" stroke="#000" stroke-width="1.2"/>
<circle cx="403.2" cy="193.6" r="2.55" fill="#ff0000" stroke="#000" stroke-width="1.15"/>
<circle cx="414.61" cy="174.24" r="2.55" fill="#ff0000" stroke="#000" stroke-width="1.15"/>
<circle cx="426.02" cy="137.68" r="2.55" fill="#ff0000" stroke="#000" stroke-width="1.15"/>
<circle cx="437.43" cy="96.81" r="2.55" fill="#ff0000" stroke="#000" stroke-width="1.15"/>
<circle cx="448.84" cy="66.7" r="2.55" fill="#ff0000" stroke="#000" stroke-width="1.15"/>
<circle cx="460.25" cy="49.5" r="2.55" fill="#ff0000" stroke="#000" stroke-width="1.15"/>
<circle cx="471.66" cy="41.43" r="2.55" fill="#ff0000" stroke="#000" stroke-width="1.15"/>
<circle cx="483.07" cy="40.36" r="2.55" fill="#ff0000" stroke="#000" stroke-width="1.15"/>
<circle cx="494.48" cy="40.36" r="2.55" fill="#ff0000" stroke="#000" stroke-width="1.15"/>
<circle cx="505.89" cy="40.89" r="2.55" fill="#ff0000" stroke="#000" stroke-width="1.15"/>
<circle cx="517.3" cy="40.89" r="2.55" fill="#ff0000" stroke="#000" stroke-width="1.15"/>
<circle cx="528.71" cy="44.66" r="2.55" fill="#ff0000" stroke="#000" stroke-width="1.15"/>
<circle cx="540.12" cy="55.41" r="2.55" fill="#ff0000" stroke="#000" stroke-width="1.15"/>
<circle cx="551.53" cy="72.08" r="2.55" fill="#ff0000" stroke="#000" stroke-width="1.15"/>
<circle cx="562.94" cy="91.44" r="2.55" fill="#ff0000" stroke="#000" stroke-width="1.15"/>
<circle cx="574.35" cy="105.95" r="2.55" fill="#ff0000" stroke="#000" stroke-width="1.15"/>
<circle cx="585.76" cy="110.79" r="2.55" fill="#ff0000" stroke="#000" stroke-width="1.15"/>
<circle cx="597.17" cy="107.57" r="2.55" fill="#ff0000" stroke="#000" stroke-width="1.15"/>
<circle cx="608.58" cy="102.19" r="2.55" fill="#ff0000" stroke="#000" stroke-width="1.15"/>
<circle cx="619.99" cy="100.58" r="2.55" fill="#ff0000" stroke="#000" stroke-width="1.15"/>
<circle cx="631.4" cy="108.64" r="2.55" fill="#ff0000" stroke="#000" stroke-width="1.15"/>
<circle cx="642.81" cy="128" r="2.55" fill="#ff0000" stroke="#000" stroke-width="1.15"/>
<circle cx="654.22" cy="156.5" r="2.55" fill="#ff0000" stroke="#000" stroke-width="1.15"/>
<circle cx="665.63" cy="183.38" r="2.55" fill="#ff0000" stroke="#000" stroke-width="1.15"/>
<circle cx="677.04" cy="193.6" r="2.55" fill="#ff0000" stroke="#000" stroke-width="1.15"/>
<polyline points="403.2,193.6 409.79,188.76 416.38,174.24 422.96,154.89 429.55,133.38 436.14,112.41 442.72,94.66 449.31,81.22 455.9,69.93 462.49,61.33 469.07,57.02 475.66,53.8 482.25,52.72 488.84,53.8 495.43,57.02 502.01,61.33 508.6,69.93 515.19,81.22 521.77,94.66 528.36,112.41 534.95,133.38 541.54,154.89 548.12,174.24 554.71,188.76 561.3,193.6" fill="none" stroke="#000" stroke-width="1.2"/>
<polygon points="403.2,191.2 405.6,193.6 403.2,196 400.8,193.6" fill="#ff0000" stroke="#000" stroke-width="1.1"/>
<polygon points="409.79,186.36 412.19,188.76 409.79,191.16 407.39,188.76" fill="#ff0000" stroke="#000" stroke-width="1.1"/>
<polygon points="416.38,171.84 418.77,174.24 416.38,176.64 413.98,174.24" fill="#ff0000" stroke="#000" stroke-width="1.1"/>
<polygon points="422.96,152.49 425.36,154.89 422.96,157.29 420.56,154.89" fill="#ff0000" stroke="#000" stroke-width="1.1"/>
<polygon points="429.55,130.98 431.95,133.38 429.55,135.78 427.15,133.38" fill="#ff0000" stroke="#000" stroke-width="1.1"/>
<polygon points="436.14,110.01 438.54,112.41 436.14,114.81 433.74,112.41" fill="#ff0000" stroke="#000" stroke-width="1.1"/>
<polygon points="442.72,92.26 445.12,94.66 442.72,97.06 440.32,94.66" fill="#ff0000" stroke="#000" stroke-width="1.1"/>
<polygon points="449.31,78.82 451.71,81.22 449.31,83.62 446.91,81.22" fill="#ff0000" stroke="#000" stroke-width="1.1"/>
<polygon points="455.9,67.53 458.3,69.93 455.9,72.33 453.5,69.93" fill="#ff0000" stroke="#000" stroke-width="1.1"/>
<polygon points="462.49,58.93 464.89,61.33 462.49,63.73 460.09,61.33" fill="#ff0000" stroke="#000" stroke-width="1.1"/>
<polygon points="469.07,54.62 471.47,57.02 469.07,59.42 466.68,57.02" fill="#ff0000" stroke="#000" stroke-width="1.1"/>
<polygon points="475.66,51.4 478.06,53.8 475.66,56.2 473.26,53.8" fill="#ff0000" stroke="#000" stroke-width="1.1"/>
<polygon points="482.25,50.32 484.65,52.72 482.25,55.12 479.85,52.72" fill="#ff0000" stroke="#000" stroke-width="1.1"/>
<polygon points="488.84,51.4 491.24,53.8 488.84,56.2 486.44,53.8" fill="#ff0000" stroke="#000" stroke-width="1.1"/>
<polygon points="495.43,54.62 497.82,57.02 495.43,59.42 493.03,57.02" fill="#ff0000" stroke="#000" stroke-width="1.1"/>
<polygon points="502.01,58.93 504.41,61.33 502.01,63.73 499.61,61.33" fill="#ff0000" stroke="#000" stroke-width="1.1"/>
<polygon points="508.6,67.53 511,69.93 508.6,72.33 506.2,69.93" fill="#ff0000" stroke="#000" stroke-width="1.1"/>
<polygon points="515.19,78.82 517.59,81.22 515.19,83.62 512.79,81.22" fill="#ff0000" stroke="#000" stroke-width="1.1"/>
<polygon points="521.77,92.26 524.17,94.66 521.77,97.06 519.38,94.66" fill="#ff0000" stroke="#000" stroke-width="1.1"/>
<polygon points="528.36,110.01 530.76,112.41 528.36,114.81 525.96,112.41" fill="#ff0000" stroke="#000" stroke-width="1.1"/>
<polygon points="534.95,130.98 537.35,133.38 534.95,135.78 532.55,133.38" fill="#ff0000" stroke="#000" stroke-width="1.1"/>
<polygon points="541.54,152.49 543.94,154.89 541.54,157.29 539.14,154.89" fill="#ff0000" stroke="#000" stroke-width="1.1"/>
<polygon points="548.12,171.84 550.52,174.24 548.12,176.64 545.73,174.24" fill="#ff0000" stroke="#000" stroke-width="1.1"/>
<polygon points="554.71,186.36 557.11,188.76 554.71,191.16 552.31,188.76" fill="#ff0000" stroke="#000" stroke-width="1.1"/>
<polygon points="561.3,191.2 563.7,193.6 561.3,196 558.9,193.6" fill="#ff0000" stroke="#000" stroke-width="1.1"/>
<polyline points="403.2,193.6 409.79,188.76 416.38,175.86 422.96,159.19 429.55,142.52 436.14,126.39 442.72,114.56 449.31,104.34 455.9,96.28 462.49,90.36 469.07,86.6 475.66,84.45 482.25,83.37 488.84,84.45 495.43,86.6 502.01,90.36 508.6,96.28 515.19,104.34 521.77,114.56 528.36,126.39 534.95,142.52 541.54,159.19 548.12,175.86 554.71,188.76 561.3,193.6" fill="none" stroke="#000" stroke-width="1.2"/>
<polygon points="403.2,191.29 405.4,195.25 401,195.25" fill="#ff0000" stroke="#000" stroke-width="1.1" stroke-linejoin="round"/>
<polygon points="409.79,186.45 411.99,190.41 407.59,190.41" fill="#ff0000" stroke="#000" stroke-width="1.1" stroke-linejoin="round"/>
<polygon points="416.38,173.55 418.57,177.51 414.18,177.51" fill="#ff0000" stroke="#000" stroke-width="1.1" stroke-linejoin="round"/>
<polygon points="422.96,156.88 425.16,160.84 420.76,160.84" fill="#ff0000" stroke="#000" stroke-width="1.1" stroke-linejoin="round"/>
<polygon points="429.55,140.21 431.75,144.17 427.35,144.17" fill="#ff0000" stroke="#000" stroke-width="1.1" stroke-linejoin="round"/>
<polygon points="436.14,124.08 438.34,128.04 433.94,128.04" fill="#ff0000" stroke="#000" stroke-width="1.1" stroke-linejoin="round"/>
<polygon points="442.72,112.25 444.92,116.21 440.52,116.21" fill="#ff0000" stroke="#000" stroke-width="1.1" stroke-linejoin="round"/>
<polygon points="449.31,102.03 451.51,105.99 447.11,105.99" fill="#ff0000" stroke="#000" stroke-width="1.1" stroke-linejoin="round"/>
<polygon points="455.9,93.97 458.1,97.93 453.7,97.93" fill="#ff0000" stroke="#000" stroke-width="1.1" stroke-linejoin="round"/>
<polygon points="462.49,88.05 464.69,92.01 460.29,92.01" fill="#ff0000" stroke="#000" stroke-width="1.1" stroke-linejoin="round"/>
<polygon points="469.07,84.29 471.27,88.25 466.88,88.25" fill="#ff0000" stroke="#000" stroke-width="1.1" stroke-linejoin="round"/>
<polygon points="475.66,82.14 477.86,86.1 473.46,86.1" fill="#ff0000" stroke="#000" stroke-width="1.1" stroke-linejoin="round"/>
<polygon points="482.25,81.06 484.45,85.02 480.05,85.02" fill="#ff0000" stroke="#000" stroke-width="1.1" stroke-linejoin="round"/>
<polygon points="488.84,82.14 491.04,86.1 486.64,86.1" fill="#ff0000" stroke="#000" stroke-width="1.1" stroke-linejoin="round"/>
<polygon points="495.43,84.29 497.62,88.25 493.23,88.25" fill="#ff0000" stroke="#000" stroke-width="1.1" stroke-linejoin="round"/>
<polygon points="502.01,88.05 504.21,92.01 499.81,92.01" fill="#ff0000" stroke="#000" stroke-width="1.1" stroke-linejoin="round"/>
<polygon points="508.6,93.97 510.8,97.93 506.4,97.93" fill="#ff0000" stroke="#000" stroke-width="1.1" stroke-linejoin="round"/>
<polygon points="515.19,102.03 517.39,105.99 512.99,105.99" fill="#ff0000" stroke="#000" stroke-width="1.1" stroke-linejoin="round"/>
<polygon points="521.77,112.25 523.98,116.21 519.57,116.21" fill="#ff0000" stroke="#000" stroke-width="1.1" stroke-linejoin="round"/>
<polygon points="528.36,124.08 530.56,128.04 526.16,128.04" fill="#ff0000" stroke="#000" stroke-width="1.1" stroke-linejoin="round"/>
<polygon points="534.95,140.21 537.15,144.17 532.75,144.17" fill="#ff0000" stroke="#000" stroke-width="1.1" stroke-linejoin="round"/>
<polygon points="541.54,156.88 543.74,160.84 539.34,160.84" fill="#ff0000" stroke="#000" stroke-width="1.1" stroke-linejoin="round"/>
<polygon points="548.12,173.55 550.33,177.51 545.92,177.51" fill="#ff0000" stroke="#000" stroke-width="1.1" stroke-linejoin="round"/>
<polygon points="554.71,186.45 556.91,190.41 552.51,190.41" fill="#ff0000" stroke="#000" stroke-width="1.1" stroke-linejoin="round"/>
<polygon points="561.3,191.29 563.5,195.25 559.1,195.25" fill="#ff0000" stroke="#000" stroke-width="1.1" stroke-linejoin="round"/>
<text x="581.4" y="90" font-size="13">Ta<tspan font-size="11.6" dy="2.9">6</tspan><tspan dy="-2.9">C</tspan><tspan font-size="11.6" dy="2.9">5</tspan></text>
<text x="597.2" y="175.2" font-size="12.6" text-anchor="start" >TaC</text>
<text transform="translate(366.0,104.7) rotate(-90)" font-size="14.5" text-anchor="middle"><tspan font-style="italic">γ</tspan><tspan font-size="10" dy="3">SF</tspan><tspan dy="-3"> (J/m</tspan><tspan font-size="10.5" dy="-6">2</tspan><tspan dy="6">)</tspan></text>
<text x="526.8" y="241" font-size="14" text-anchor="middle" font-style="italic">δ<tspan font-style="normal"> / </tspan>b</text>
<text x="543.1" y="258.8" font-size="14.5" text-anchor="middle" >(b)</text>
<path d="M54.8,372.3 C54.8,367.53 58.37,361.02 61.2,357.5 C64.03,353.98 66.52,353.13 71.8,351.2 C77.08,349.27 84.08,347.5 92.9,345.9 C101.72,344.3 114.12,342.67 124.7,341.6 C135.28,340.53 146.35,340.1 156.4,339.5 C166.45,338.9 174.93,338.52 185,338 C195.07,337.48 206.22,336.32 216.8,336.4 C227.38,336.48 237.92,337.27 248.5,338.5 C259.08,339.73 271.48,341.87 280.3,343.8 C289.12,345.73 296.12,347.82 301.4,350.1 C306.68,352.38 309.53,354.5 312,357.5 C314.47,360.5 315.85,365.27 316.2,368.1 C316.55,370.93 315.5,372.57 314.1,374.5 C312.7,376.43 311.68,378.3 307.8,379.7 C303.92,381.1 297.15,382.02 290.8,382.9 C284.45,383.78 276.75,384.57 269.7,385 C262.65,385.43 255.57,385.57 248.5,385.5 C241.43,385.43 234.35,384.85 227.3,384.6 C220.25,384.35 213.25,383.85 206.2,384 C199.15,384.15 193.3,384.7 185,385.5 C176.7,386.3 166.45,387.82 156.4,388.8 C146.35,389.78 133.52,390.68 124.7,391.4 C115.88,392.12 110.57,392.82 103.5,393.1 C96.43,393.38 87.58,393.38 82.3,393.1 C77.02,392.82 75.32,392.57 71.8,391.4 C68.28,390.23 64.03,389.28 61.2,386.1 C58.37,382.92 54.8,377.07 54.8,372.3Z" fill="#cccccc"/>
<path d="M53.4,423.6 C53.4,418.85 54.83,412 56.8,408.5 C58.77,405 61,404.15 65.2,402.6 C69.4,401.05 75,400.03 82,399.2 C89,398.37 98.82,398.07 107.2,397.6 C115.58,397.13 124.33,396.68 132.3,396.4 C140.27,396.12 147.85,395.7 155,395.9 C162.15,396.1 167.63,396.98 175.2,397.6 C182.77,398.22 192.02,398.4 200.4,399.6 C208.78,400.8 218.52,403.15 225.5,404.8 C232.48,406.45 238.1,407.48 242.3,409.5 C246.5,411.52 248.73,414.4 250.7,416.9 C252.67,419.4 254.1,421.98 254.1,424.5 C254.1,427.02 252.38,429.77 250.7,432 C249.02,434.23 246.78,436.5 244,437.9 C241.22,439.3 238.48,439.65 234,440.4 C229.52,441.15 222.7,441.88 217.1,442.4 C211.5,442.92 207.38,443.27 200.4,443.5 C193.42,443.73 183.6,443.67 175.2,443.8 C166.8,443.93 157.15,444.37 150,444.3 C142.85,444.23 139.43,443.35 132.3,443.4 C125.17,443.45 115.58,444.4 107.2,444.6 C98.82,444.8 89,445.03 82,444.6 C75,444.17 69.4,443.27 65.2,442 C61,440.73 58.77,440.07 56.8,437 C54.83,433.93 53.4,428.35 53.4,423.6Z" fill="#ccccff"/>
<line x1="42" y1="499.6" x2="47.2" y2="499.6" stroke="#333" stroke-width="1"/>
<text transform="translate(37,504.1) scale(0.96,1)" font-size="12.5" text-anchor="end" >1</text>
<line x1="42" y1="461.15" x2="47.2" y2="461.15" stroke="#333" stroke-width="1"/>
<text transform="translate(37,465.65) scale(0.96,1)" font-size="12.5" text-anchor="end" >1.5</text>
<line x1="42" y1="422.7" x2="47.2" y2="422.7" stroke="#333" stroke-width="1"/>
<text transform="translate(37,427.2) scale(0.96,1)" font-size="12.5" text-anchor="end" >2</text>
<line x1="42" y1="384.25" x2="47.2" y2="384.25" stroke="#333" stroke-width="1"/>
<text transform="translate(37,388.75) scale(0.96,1)" font-size="12.5" text-anchor="end" >2.5</text>
<line x1="42" y1="345.8" x2="47.2" y2="345.8" stroke="#333" stroke-width="1"/>
<text transform="translate(37,350.3) scale(0.96,1)" font-size="12.5" text-anchor="end" >3</text>
<line x1="42" y1="307.35" x2="47.2" y2="307.35" stroke="#333" stroke-width="1"/>
<text transform="translate(37,311.85) scale(0.96,1)" font-size="12.5" text-anchor="end" >3.5</text>
<line x1="42" y1="480.38" x2="44.6" y2="480.38" stroke="#333" stroke-width="1"/>
<line x1="42" y1="441.93" x2="44.6" y2="441.93" stroke="#333" stroke-width="1"/>
<line x1="42" y1="403.48" x2="44.6" y2="403.48" stroke="#333" stroke-width="1"/>
<line x1="42" y1="365.02" x2="44.6" y2="365.02" stroke="#333" stroke-width="1"/>
<line x1="42" y1="326.58" x2="44.6" y2="326.58" stroke="#333" stroke-width="1"/>
<line x1="62.4" y1="499.5" x2="62.4" y2="494.1" stroke="#333" stroke-width="1"/>
<text transform="translate(62.4,514.4) scale(0.96,1)" font-size="12.5" text-anchor="middle" >0.7</text>
<line x1="102.75" y1="499.5" x2="102.75" y2="494.1" stroke="#333" stroke-width="1"/>
<text transform="translate(102.75,514.4) scale(0.96,1)" font-size="12.5" text-anchor="middle" >0.75</text>
<line x1="143.1" y1="499.5" x2="143.1" y2="494.1" stroke="#333" stroke-width="1"/>
<text transform="translate(143.1,514.4) scale(0.96,1)" font-size="12.5" text-anchor="middle" >0.8</text>
<line x1="183.45" y1="499.5" x2="183.45" y2="494.1" stroke="#333" stroke-width="1"/>
<text transform="translate(183.45,514.4) scale(0.96,1)" font-size="12.5" text-anchor="middle" >0.85</text>
<line x1="223.8" y1="499.5" x2="223.8" y2="494.1" stroke="#333" stroke-width="1"/>
<text transform="translate(223.8,514.4) scale(0.96,1)" font-size="12.5" text-anchor="middle" >0.9</text>
<line x1="264.15" y1="499.5" x2="264.15" y2="494.1" stroke="#333" stroke-width="1"/>
<text transform="translate(264.15,514.4) scale(0.96,1)" font-size="12.5" text-anchor="middle" >0.95</text>
<line x1="304.5" y1="499.5" x2="304.5" y2="494.1" stroke="#333" stroke-width="1"/>
<text transform="translate(304.5,514.4) scale(0.96,1)" font-size="12.5" text-anchor="middle" >1</text>
<line x1="82.58" y1="499.5" x2="82.58" y2="496.9" stroke="#333" stroke-width="1"/>
<line x1="122.93" y1="499.5" x2="122.93" y2="496.9" stroke="#333" stroke-width="1"/>
<line x1="163.28" y1="499.5" x2="163.28" y2="496.9" stroke="#333" stroke-width="1"/>
<line x1="203.63" y1="499.5" x2="203.63" y2="496.9" stroke="#333" stroke-width="1"/>
<line x1="243.98" y1="499.5" x2="243.98" y2="496.9" stroke="#333" stroke-width="1"/>
<line x1="284.32" y1="499.5" x2="284.32" y2="496.9" stroke="#333" stroke-width="1"/>
<path d="M42,287.9 V500 M41.4,499.5 H325 M324.5,500 V288 M325,288.5 H41.4" fill="none" stroke="#333" stroke-width="1.15"/>
<clipPath id="c1"><rect x="52.5" y="296" width="90.1" height="47.6"/></clipPath>
<rect x="52.5" y="296" width="90.1" height="47.6" fill="#fff"/>
<g clip-path="url(#c1)">
<circle cx="45.9" cy="277.5" r="6.3" fill="url(#gBlue)"/>
<circle cx="59.7" cy="277.5" r="6.3" fill="url(#gBlue)"/>
<circle cx="73.5" cy="277.5" r="6.3" fill="url(#gBlue)"/>
<circle cx="87.3" cy="277.5" r="6.3" fill="url(#gBlue)"/>
<circle cx="101.1" cy="277.5" r="6.3" fill="url(#gBlue)"/>
<circle cx="114.9" cy="277.5" r="6.3" fill="url(#gBlue)"/>
<circle cx="128.7" cy="277.5" r="6.3" fill="url(#gBlue)"/>
<circle cx="142.5" cy="277.5" r="6.3" fill="url(#gBlue)"/>
<circle cx="156.3" cy="277.5" r="6.3" fill="url(#gBlue)"/>
<circle cx="39" cy="289.1" r="6.3" fill="url(#gBlue)"/>
<circle cx="52.8" cy="289.1" r="6.3" fill="url(#gBlue)"/>
<circle cx="66.6" cy="289.1" r="6.3" fill="url(#gBlue)"/>
<circle cx="80.4" cy="289.1" r="6.3" fill="url(#gBlue)"/>
<circle cx="94.2" cy="289.1" r="6.3" fill="url(#gBlue)"/>
<circle cx="108" cy="289.1" r="6.3" fill="url(#gBlue)"/>
<circle cx="121.8" cy="289.1" r="6.3" fill="url(#gBlue)"/>
<circle cx="135.6" cy="289.1" r="6.3" fill="url(#gBlue)"/>
<circle cx="149.4" cy="289.1" r="6.3" fill="url(#gBlue)"/>
<circle cx="45.9" cy="300.7" r="6.3" fill="url(#gBlue)"/>
<circle cx="59.7" cy="300.7" r="6.3" fill="url(#gBlue)"/>
<circle cx="73.5" cy="300.7" r="6.3" fill="url(#gBlue)"/>
<circle cx="87.3" cy="300.7" r="6.3" fill="url(#gBlue)"/>
<circle cx="101.1" cy="300.7" r="6.3" fill="url(#gBlue)"/>
<circle cx="114.9" cy="300.7" r="6.3" fill="url(#gBlue)"/>
<circle cx="128.7" cy="300.7" r="6.3" fill="url(#gBlue)"/>
<circle cx="142.5" cy="300.7" r="6.3" fill="url(#gBlue)"/>
<circle cx="156.3" cy="300.7" r="6.3" fill="url(#gBlue)"/>
<circle cx="39" cy="312.3" r="6.3" fill="url(#gBlue)"/>
<circle cx="52.8" cy="312.3" r="6.3" fill="url(#gBlue)"/>
<circle cx="66.6" cy="312.3" r="6.3" fill="url(#gBlue)"/>
<circle cx="80.4" cy="312.3" r="6.3" fill="url(#gBlue)"/>
<circle cx="94.2" cy="312.3" r="6.3" fill="url(#gBlue)"/>
<circle cx="108" cy="312.3" r="6.3" fill="url(#gBlue)"/>
<circle cx="121.8" cy="312.3" r="6.3" fill="url(#gBlue)"/>
<circle cx="135.6" cy="312.3" r="6.3" fill="url(#gBlue)"/>
<circle cx="149.4" cy="312.3" r="6.3" fill="url(#gBlue)"/>
<circle cx="45.9" cy="323.9" r="6.3" fill="url(#gBlue)"/>
<circle cx="59.7" cy="323.9" r="6.3" fill="url(#gBlue)"/>
<circle cx="73.5" cy="323.9" r="6.3" fill="url(#gBlue)"/>
<circle cx="87.3" cy="323.9" r="6.3" fill="url(#gBlue)"/>
<circle cx="101.1" cy="323.9" r="6.3" fill="url(#gBlue)"/>
<circle cx="114.9" cy="323.9" r="6.3" fill="url(#gBlue)"/>
<circle cx="128.7" cy="323.9" r="6.3" fill="url(#gBlue)"/>
<circle cx="142.5" cy="323.9" r="6.3" fill="url(#gBlue)"/>
<circle cx="156.3" cy="323.9" r="6.3" fill="url(#gBlue)"/>
<circle cx="39" cy="335.5" r="6.3" fill="url(#gBlue)"/>
<circle cx="52.8" cy="335.5" r="6.3" fill="url(#gBlue)"/>
<circle cx="66.6" cy="335.5" r="6.3" fill="url(#gBlue)"/>
<circle cx="80.4" cy="335.5" r="6.3" fill="url(#gBlue)"/>
<circle cx="94.2" cy="335.5" r="6.3" fill="url(#gBlue)"/>
<circle cx="108" cy="335.5" r="6.3" fill="url(#gBlue)"/>
<circle cx="121.8" cy="335.5" r="6.3" fill="url(#gBlue)"/>
<circle cx="135.6" cy="335.5" r="6.3" fill="url(#gBlue)"/>
<circle cx="149.4" cy="335.5" r="6.3" fill="url(#gBlue)"/>
<circle cx="45.9" cy="347.1" r="6.3" fill="url(#gBlue)"/>
<circle cx="59.7" cy="347.1" r="6.3" fill="url(#gBlue)"/>
<circle cx="73.5" cy="347.1" r="6.3" fill="url(#gBlue)"/>
<circle cx="87.3" cy="347.1" r="6.3" fill="url(#gBlue)"/>
<circle cx="101.1" cy="347.1" r="6.3" fill="url(#gBlue)"/>
<circle cx="114.9" cy="347.1" r="6.3" fill="url(#gBlue)"/>
<circle cx="128.7" cy="347.1" r="6.3" fill="url(#gBlue)"/>
<circle cx="142.5" cy="347.1" r="6.3" fill="url(#gBlue)"/>
<circle cx="156.3" cy="347.1" r="6.3" fill="url(#gBlue)"/>
<circle cx="45.9" cy="285.2" r="3.6" fill="url(#gBrown)"/>
<circle cx="59.7" cy="285.2" r="3.6" fill="url(#gBrown)"/>
<circle cx="73.5" cy="285.2" r="3.6" fill="url(#gBrown)"/>
<circle cx="87.3" cy="285.2" r="3.6" fill="url(#gBrown)"/>
<circle cx="101.1" cy="285.2" r="3.6" fill="url(#gBrown)"/>
<circle cx="114.9" cy="285.2" r="3.6" fill="url(#gBrown)"/>
<circle cx="128.7" cy="285.2" r="3.6" fill="url(#gBrown)"/>
<circle cx="142.5" cy="285.2" r="3.6" fill="url(#gBrown)"/>
<circle cx="156.3" cy="285.2" r="3.6" fill="url(#gBrown)"/>
<circle cx="39" cy="296.8" r="3.6" fill="url(#gBrown)"/>
<circle cx="52.8" cy="296.8" r="3.6" fill="url(#gBrown)"/>
<circle cx="66.6" cy="296.8" r="3.6" fill="url(#gBrown)"/>
<circle cx="80.4" cy="296.8" r="3.6" fill="url(#gBrown)"/>
<circle cx="94.2" cy="296.8" r="3.6" fill="url(#gBrown)"/>
<circle cx="108" cy="296.8" r="3.6" fill="url(#gBrown)"/>
<circle cx="121.8" cy="296.8" r="3.6" fill="url(#gBrown)"/>
<circle cx="135.6" cy="296.8" r="3.6" fill="url(#gBrown)"/>
<circle cx="149.4" cy="296.8" r="3.6" fill="url(#gBrown)"/>
<circle cx="45.9" cy="308.4" r="3.6" fill="url(#gBrown)"/>
<circle cx="59.7" cy="308.4" r="3.6" fill="url(#gBrown)"/>
<circle cx="73.5" cy="308.4" r="3.6" fill="url(#gBrown)"/>
<circle cx="87.3" cy="308.4" r="3.6" fill="url(#gBrown)"/>
<circle cx="101.1" cy="308.4" r="3.6" fill="url(#gBrown)"/>
<circle cx="114.9" cy="308.4" r="3.6" fill="url(#gBrown)"/>
<circle cx="128.7" cy="308.4" r="3.6" fill="url(#gBrown)"/>
<circle cx="142.5" cy="308.4" r="3.6" fill="url(#gBrown)"/>
<circle cx="156.3" cy="308.4" r="3.6" fill="url(#gBrown)"/>
<circle cx="39" cy="320" r="3.6" fill="url(#gBrown)"/>
<circle cx="52.8" cy="320" r="3.6" fill="url(#gBrown)"/>
<circle cx="66.6" cy="320" r="3.6" fill="url(#gBrown)"/>
<circle cx="80.4" cy="320" r="3.6" fill="url(#gBrown)"/>
<circle cx="94.2" cy="320" r="3.6" fill="url(#gBrown)"/>
<circle cx="108" cy="320" r="3.6" fill="url(#gBrown)"/>
<circle cx="121.8" cy="320" r="3.6" fill="url(#gBrown)"/>
<circle cx="135.6" cy="320" r="3.6" fill="url(#gBrown)"/>
<circle cx="149.4" cy="320" r="3.6" fill="url(#gBrown)"/>
<circle cx="45.9" cy="331.6" r="3.6" fill="url(#gBrown)"/>
<circle cx="59.7" cy="331.6" r="3.6" fill="url(#gBrown)"/>
<circle cx="73.5" cy="331.6" r="3.6" fill="url(#gBrown)"/>
<circle cx="87.3" cy="331.6" r="3.6" fill="url(#gBrown)"/>
<circle cx="101.1" cy="331.6" r="3.6" fill="url(#gBrown)"/>
<circle cx="114.9" cy="331.6" r="3.6" fill="url(#gBrown)"/>
<circle cx="128.7" cy="331.6" r="3.6" fill="url(#gBrown)"/>
<circle cx="142.5" cy="331.6" r="3.6" fill="url(#gBrown)"/>
<circle cx="156.3" cy="331.6" r="3.6" fill="url(#gBrown)"/>
<circle cx="39" cy="343.2" r="3.6" fill="url(#gBrown)"/>
<circle cx="52.8" cy="343.2" r="3.6" fill="url(#gBrown)"/>
<circle cx="66.6" cy="343.2" r="3.6" fill="url(#gBrown)"/>
<circle cx="80.4" cy="343.2" r="3.6" fill="url(#gBrown)"/>
<circle cx="94.2" cy="343.2" r="3.6" fill="url(#gBrown)"/>
<circle cx="108" cy="343.2" r="3.6" fill="url(#gBrown)"/>
<circle cx="121.8" cy="343.2" r="3.6" fill="url(#gBrown)"/>
<circle cx="135.6" cy="343.2" r="3.6" fill="url(#gBrown)"/>
<circle cx="149.4" cy="343.2" r="3.6" fill="url(#gBrown)"/>
<circle cx="45.9" cy="354.8" r="3.6" fill="url(#gBrown)"/>
<circle cx="59.7" cy="354.8" r="3.6" fill="url(#gBrown)"/>
<circle cx="73.5" cy="354.8" r="3.6" fill="url(#gBrown)"/>
<circle cx="87.3" cy="354.8" r="3.6" fill="url(#gBrown)"/>
<circle cx="101.1" cy="354.8" r="3.6" fill="url(#gBrown)"/>
<circle cx="114.9" cy="354.8" r="3.6" fill="url(#gBrown)"/>
<circle cx="128.7" cy="354.8" r="3.6" fill="url(#gBrown)"/>
<circle cx="142.5" cy="354.8" r="3.6" fill="url(#gBrown)"/>
<circle cx="156.3" cy="354.8" r="3.6" fill="url(#gBrown)"/>
</g>
<rect x="52.5" y="296" width="90.1" height="47.6" fill="none" stroke="#555" stroke-width="0.8"/>
<clipPath id="c2"><rect x="225.5" y="442" width="90.2" height="48.4"/></clipPath>
<rect x="225.5" y="442" width="90.2" height="48.4" fill="#fff"/>
<g clip-path="url(#c2)">
<circle cx="218.9" cy="423.5" r="6.3" fill="url(#gBlue)"/>
<circle cx="232.7" cy="423.5" r="6.3" fill="url(#gBlue)"/>
<circle cx="246.5" cy="423.5" r="6.3" fill="url(#gBlue)"/>
<circle cx="260.3" cy="423.5" r="6.3" fill="url(#gBlue)"/>
<circle cx="274.1" cy="423.5" r="6.3" fill="url(#gBlue)"/>
<circle cx="287.9" cy="423.5" r="6.3" fill="url(#gBlue)"/>
<circle cx="301.7" cy="423.5" r="6.3" fill="url(#gBlue)"/>
<circle cx="315.5" cy="423.5" r="6.3" fill="url(#gBlue)"/>
<circle cx="329.3" cy="423.5" r="6.3" fill="url(#gBlue)"/>
<circle cx="212" cy="435.1" r="6.3" fill="url(#gBlue)"/>
<circle cx="225.8" cy="435.1" r="6.3" fill="url(#gBlue)"/>
<circle cx="239.6" cy="435.1" r="6.3" fill="url(#gBlue)"/>
<circle cx="253.4" cy="435.1" r="6.3" fill="url(#gBlue)"/>
<circle cx="267.2" cy="435.1" r="6.3" fill="url(#gBlue)"/>
<circle cx="281" cy="435.1" r="6.3" fill="url(#gBlue)"/>
<circle cx="294.8" cy="435.1" r="6.3" fill="url(#gBlue)"/>
<circle cx="308.6" cy="435.1" r="6.3" fill="url(#gBlue)"/>
<circle cx="322.4" cy="435.1" r="6.3" fill="url(#gBlue)"/>
<circle cx="218.9" cy="446.7" r="6.3" fill="url(#gBlue)"/>
<circle cx="232.7" cy="446.7" r="6.3" fill="url(#gBlue)"/>
<circle cx="246.5" cy="446.7" r="6.3" fill="url(#gBlue)"/>
<circle cx="260.3" cy="446.7" r="6.3" fill="url(#gBlue)"/>
<circle cx="274.1" cy="446.7" r="6.3" fill="url(#gBlue)"/>
<circle cx="287.9" cy="446.7" r="6.3" fill="url(#gBlue)"/>
<circle cx="301.7" cy="446.7" r="6.3" fill="url(#gBlue)"/>
<circle cx="315.5" cy="446.7" r="6.3" fill="url(#gBlue)"/>
<circle cx="329.3" cy="446.7" r="6.3" fill="url(#gBlue)"/>
<circle cx="212" cy="458.3" r="6.3" fill="url(#gBlue)"/>
<circle cx="225.8" cy="458.3" r="6.3" fill="url(#gBlue)"/>
<circle cx="239.6" cy="458.3" r="6.3" fill="url(#gBlue)"/>
<circle cx="253.4" cy="458.3" r="6.3" fill="url(#gBlue)"/>
<circle cx="267.2" cy="458.3" r="6.3" fill="url(#gBlue)"/>
<circle cx="281" cy="458.3" r="6.3" fill="url(#gBlue)"/>
<circle cx="294.8" cy="458.3" r="6.3" fill="url(#gBlue)"/>
<circle cx="308.6" cy="458.3" r="6.3" fill="url(#gBlue)"/>
<circle cx="322.4" cy="458.3" r="6.3" fill="url(#gBlue)"/>
<circle cx="218.9" cy="469.9" r="6.3" fill="url(#gBlue)"/>
<circle cx="232.7" cy="469.9" r="6.3" fill="url(#gBlue)"/>
<circle cx="246.5" cy="469.9" r="6.3" fill="url(#gBlue)"/>
<circle cx="260.3" cy="469.9" r="6.3" fill="url(#gBlue)"/>
<circle cx="274.1" cy="469.9" r="6.3" fill="url(#gBlue)"/>
<circle cx="287.9" cy="469.9" r="6.3" fill="url(#gBlue)"/>
<circle cx="301.7" cy="469.9" r="6.3" fill="url(#gBlue)"/>
<circle cx="315.5" cy="469.9" r="6.3" fill="url(#gBlue)"/>
<circle cx="329.3" cy="469.9" r="6.3" fill="url(#gBlue)"/>
<circle cx="212" cy="481.5" r="6.3" fill="url(#gBlue)"/>
<circle cx="225.8" cy="481.5" r="6.3" fill="url(#gBlue)"/>
<circle cx="239.6" cy="481.5" r="6.3" fill="url(#gBlue)"/>
<circle cx="253.4" cy="481.5" r="6.3" fill="url(#gBlue)"/>
<circle cx="267.2" cy="481.5" r="6.3" fill="url(#gBlue)"/>
<circle cx="281" cy="481.5" r="6.3" fill="url(#gBlue)"/>
<circle cx="294.8" cy="481.5" r="6.3" fill="url(#gBlue)"/>
<circle cx="308.6" cy="481.5" r="6.3" fill="url(#gBlue)"/>
<circle cx="322.4" cy="481.5" r="6.3" fill="url(#gBlue)"/>
<circle cx="218.9" cy="493.1" r="6.3" fill="url(#gBlue)"/>
<circle cx="232.7" cy="493.1" r="6.3" fill="url(#gBlue)"/>
<circle cx="246.5" cy="493.1" r="6.3" fill="url(#gBlue)"/>
<circle cx="260.3" cy="493.1" r="6.3" fill="url(#gBlue)"/>
<circle cx="274.1" cy="493.1" r="6.3" fill="url(#gBlue)"/>
<circle cx="287.9" cy="493.1" r="6.3" fill="url(#gBlue)"/>
<circle cx="301.7" cy="493.1" r="6.3" fill="url(#gBlue)"/>
<circle cx="315.5" cy="493.1" r="6.3" fill="url(#gBlue)"/>
<circle cx="329.3" cy="493.1" r="6.3" fill="url(#gBlue)"/>
<circle cx="218.9" cy="431.2" r="3.4" fill="none" stroke="#222" stroke-width="0.6"/>
<circle cx="232.7" cy="431.2" r="3.6" fill="url(#gBrown)"/>
<circle cx="246.5" cy="431.2" r="3.6" fill="url(#gBrown)"/>
<circle cx="260.3" cy="431.2" r="3.4" fill="none" stroke="#222" stroke-width="0.6"/>
<circle cx="274.1" cy="431.2" r="3.6" fill="url(#gBrown)"/>
<circle cx="287.9" cy="431.2" r="3.6" fill="url(#gBrown)"/>
<circle cx="301.7" cy="431.2" r="3.4" fill="none" stroke="#222" stroke-width="0.6"/>
<circle cx="315.5" cy="431.2" r="3.6" fill="url(#gBrown)"/>
<circle cx="329.3" cy="431.2" r="3.6" fill="url(#gBrown)"/>
<circle cx="212" cy="442.8" r="3.6" fill="url(#gBrown)"/>
<circle cx="225.8" cy="442.8" r="3.6" fill="url(#gBrown)"/>
<circle cx="239.6" cy="442.8" r="3.4" fill="none" stroke="#222" stroke-width="0.6"/>
<circle cx="253.4" cy="442.8" r="3.6" fill="url(#gBrown)"/>
<circle cx="267.2" cy="442.8" r="3.6" fill="url(#gBrown)"/>
<circle cx="281" cy="442.8" r="3.4" fill="none" stroke="#222" stroke-width="0.6"/>
<circle cx="294.8" cy="442.8" r="3.6" fill="url(#gBrown)"/>
<circle cx="308.6" cy="442.8" r="3.6" fill="url(#gBrown)"/>
<circle cx="322.4" cy="442.8" r="3.4" fill="none" stroke="#222" stroke-width="0.6"/>
<circle cx="218.9" cy="454.4" r="3.4" fill="none" stroke="#222" stroke-width="0.6"/>
<circle cx="232.7" cy="454.4" r="3.6" fill="url(#gBrown)"/>
<circle cx="246.5" cy="454.4" r="3.6" fill="url(#gBrown)"/>
<circle cx="260.3" cy="454.4" r="3.4" fill="none" stroke="#222" stroke-width="0.6"/>
<circle cx="274.1" cy="454.4" r="3.6" fill="url(#gBrown)"/>
<circle cx="287.9" cy="454.4" r="3.6" fill="url(#gBrown)"/>
<circle cx="301.7" cy="454.4" r="3.4" fill="none" stroke="#222" stroke-width="0.6"/>
<circle cx="315.5" cy="454.4" r="3.6" fill="url(#gBrown)"/>
<circle cx="329.3" cy="454.4" r="3.6" fill="url(#gBrown)"/>
<circle cx="212" cy="466" r="3.6" fill="url(#gBrown)"/>
<circle cx="225.8" cy="466" r="3.6" fill="url(#gBrown)"/>
<circle cx="239.6" cy="466" r="3.4" fill="none" stroke="#222" stroke-width="0.6"/>
<circle cx="253.4" cy="466" r="3.6" fill="url(#gBrown)"/>
<circle cx="267.2" cy="466" r="3.6" fill="url(#gBrown)"/>
<circle cx="281" cy="466" r="3.4" fill="none" stroke="#222" stroke-width="0.6"/>
<circle cx="294.8" cy="466" r="3.6" fill="url(#gBrown)"/>
<circle cx="308.6" cy="466" r="3.6" fill="url(#gBrown)"/>
<circle cx="322.4" cy="466" r="3.4" fill="none" stroke="#222" stroke-width="0.6"/>
<circle cx="218.9" cy="477.6" r="3.4" fill="none" stroke="#222" stroke-width="0.6"/>
<circle cx="232.7" cy="477.6" r="3.6" fill="url(#gBrown)"/>
<circle cx="246.5" cy="477.6" r="3.6" fill="url(#gBrown)"/>
<circle cx="260.3" cy="477.6" r="3.4" fill="none" stroke="#222" stroke-width="0.6"/>
<circle cx="274.1" cy="477.6" r="3.6" fill="url(#gBrown)"/>
<circle cx="287.9" cy="477.6" r="3.6" fill="url(#gBrown)"/>
<circle cx="301.7" cy="477.6" r="3.4" fill="none" stroke="#222" stroke-width="0.6"/>
<circle cx="315.5" cy="477.6" r="3.6" fill="url(#gBrown)"/>
<circle cx="329.3" cy="477.6" r="3.6" fill="url(#gBrown)"/>
<circle cx="212" cy="489.2" r="3.6" fill="url(#gBrown)"/>
<circle cx="225.8" cy="489.2" r="3.6" fill="url(#gBrown)"/>
<circle cx="239.6" cy="489.2" r="3.4" fill="none" stroke="#222" stroke-width="0.6"/>
<circle cx="253.4" cy="489.2" r="3.6" fill="url(#gBrown)"/>
<circle cx="267.2" cy="489.2" r="3.6" fill="url(#gBrown)"/>
<circle cx="281" cy="489.2" r="3.4" fill="none" stroke="#222" stroke-width="0.6"/>
<circle cx="294.8" cy="489.2" r="3.6" fill="url(#gBrown)"/>
<circle cx="308.6" cy="489.2" r="3.6" fill="url(#gBrown)"/>
<circle cx="322.4" cy="489.2" r="3.4" fill="none" stroke="#222" stroke-width="0.6"/>
<circle cx="218.9" cy="500.8" r="3.4" fill="none" stroke="#222" stroke-width="0.6"/>
<circle cx="232.7" cy="500.8" r="3.6" fill="url(#gBrown)"/>
<circle cx="246.5" cy="500.8" r="3.6" fill="url(#gBrown)"/>
<circle cx="260.3" cy="500.8" r="3.4" fill="none" stroke="#222" stroke-width="0.6"/>
<circle cx="274.1" cy="500.8" r="3.6" fill="url(#gBrown)"/>
<circle cx="287.9" cy="500.8" r="3.6" fill="url(#gBrown)"/>
<circle cx="301.7" cy="500.8" r="3.4" fill="none" stroke="#222" stroke-width="0.6"/>
<circle cx="315.5" cy="500.8" r="3.6" fill="url(#gBrown)"/>
<circle cx="329.3" cy="500.8" r="3.6" fill="url(#gBrown)"/>
</g>
<rect x="225.5" y="442" width="90.2" height="48.4" fill="none" stroke="#555" stroke-width="0.8"/>
<circle cx="69.13" cy="374.41" r="3.3" fill="#000"/>
<circle cx="102.75" cy="360.41" r="3.3" fill="#000"/>
<circle cx="102.75" cy="369.64" r="3.3" fill="#000"/>
<circle cx="102.75" cy="373.87" r="3.3" fill="#000"/>
<circle cx="102.75" cy="377.71" r="3.3" fill="#000"/>
<circle cx="136.38" cy="360.8" r="3.3" fill="#000"/>
<circle cx="136.38" cy="368.87" r="3.3" fill="#000"/>
<circle cx="136.38" cy="375.02" r="3.3" fill="#000"/>
<circle cx="136.38" cy="377.71" r="3.3" fill="#000"/>
<circle cx="203.63" cy="361.18" r="3.3" fill="#000"/>
<circle cx="237.25" cy="361.18" r="3.3" fill="#000"/>
<circle cx="237.25" cy="364.26" r="3.3" fill="#000"/>
<circle cx="270.88" cy="361.95" r="3.3" fill="#000"/>
<circle cx="270.88" cy="365.79" r="3.3" fill="#000"/>
<rect x="301.7" y="366.38" width="5.6" height="5.6" fill="#000" stroke="#000" stroke-width="1.1"/>
<circle cx="69.13" cy="414.24" r="2.7" fill="#0000ff" stroke="#000" stroke-width="1.15"/>
<circle cx="69.13" cy="421.16" r="2.7" fill="#0000ff" stroke="#000" stroke-width="1.15"/>
<circle cx="69.13" cy="423.47" r="2.7" fill="#0000ff" stroke="#000" stroke-width="1.15"/>
<circle cx="102.75" cy="413.47" r="2.7" fill="#0000ff" stroke="#000" stroke-width="1.15"/>
<circle cx="102.75" cy="415.01" r="2.7" fill="#0000ff" stroke="#000" stroke-width="1.15"/>
<circle cx="102.75" cy="420.39" r="2.7" fill="#0000ff" stroke="#000" stroke-width="1.15"/>
<circle cx="102.75" cy="423.47" r="2.7" fill="#0000ff" stroke="#000" stroke-width="1.15"/>
<circle cx="102.75" cy="425.01" r="2.7" fill="#0000ff" stroke="#000" stroke-width="1.15"/>
<circle cx="136.38" cy="415.01" r="2.7" fill="#0000ff" stroke="#000" stroke-width="1.15"/>
<circle cx="136.38" cy="421.93" r="2.7" fill="#0000ff" stroke="#000" stroke-width="1.15"/>
<circle cx="136.38" cy="425.01" r="2.7" fill="#0000ff" stroke="#000" stroke-width="1.15"/>
<circle cx="203.63" cy="425.01" r="2.7" fill="#0000ff" stroke="#000" stroke-width="1.15"/>
<circle cx="237.25" cy="421.16" r="2.7" fill="#0000ff" stroke="#000" stroke-width="1.15"/>
<circle cx="237.25" cy="426.55" r="2.7" fill="#0000ff" stroke="#000" stroke-width="1.15"/>
<circle cx="237.25" cy="428.85" r="2.7" fill="#0000ff" stroke="#000" stroke-width="1.15"/>
<rect x="167.2" y="421.82" width="5.6" height="5.6" fill="#0000ff" stroke="#000" stroke-width="1.1"/>
<line x1="142.8" y1="337" x2="154.79" y2="343.83" stroke="#000" stroke-width="1"/>
<polygon points="160,346.8 152.38,346.03 155.45,340.64" fill="#000"/>
<line x1="293.9" y1="391.4" x2="300.66" y2="379.87" stroke="#000" stroke-width="1"/>
<polygon points="303.7,374.7 302.83,382.31 297.48,379.17" fill="#000"/>
<line x1="180" y1="409.3" x2="176.25" y2="413.58" stroke="#000" stroke-width="1"/>
<polygon points="172.3,418.1 174.58,410.79 179.24,414.87" fill="#000"/>
<line x1="225.6" y1="451.6" x2="215.47" y2="444.31" stroke="#000" stroke-width="1"/>
<polygon points="210.6,440.8 218.09,442.37 214.47,447.41" fill="#000"/>
<text x="148" y="304.9" font-size="12.2" text-anchor="start" textLength="129.2" lengthAdjust="spacingAndGlyphs" style="stroke-width:0.06px">fully-populated slip planes</text>
<text x="82.2" y="486.8" font-size="12.2" text-anchor="start" textLength="136.8" lengthAdjust="spacingAndGlyphs" style="stroke-width:0.06px">carbon-depleted slip planes</text>
<text x="281.4" y="405.6" font-size="12.6" text-anchor="start" >TiC</text>
<text x="171.2" y="405.7" font-size="13.4">Ti<tspan font-size="10.2" dy="2.9">6</tspan><tspan dy="-2.9">C</tspan><tspan font-size="10.2" dy="2.9">5</tspan></text>
<text transform="translate(13.1,391.8) rotate(-90)" font-size="14.5" text-anchor="middle"><tspan font-style="italic">γ</tspan><tspan font-size="10" dy="3">ISF</tspan><tspan dy="-3"> (J/m</tspan><tspan font-size="10.5" dy="-6">2</tspan><tspan dy="6">)</tspan></text>
<text x="183" y="533.9" font-size="15.6" text-anchor="middle"><tspan font-style="italic">x</tspan> = C/Ti</text>
<text x="187.4" y="551" font-size="14.5" text-anchor="middle" >(c)</text>
<path d="M411.7,363.5 C413.07,361.98 413.93,360.8 418,359.9 C422.07,359 430.07,358.4 436.1,358.1 C442.13,357.8 448.18,357.95 454.2,358.1 C460.22,358.25 466.18,358.48 472.2,359 C478.22,359.52 485.67,360.53 490.3,361.2 C494.93,361.87 496.18,361.72 500,363 C503.82,364.28 506.62,365.95 513.2,368.9 C519.78,371.85 530.73,376.77 539.5,380.7 C548.27,384.63 554.43,387.15 565.8,392.5 C577.17,397.85 596.77,407.43 607.7,412.8 C618.63,418.17 623.95,420.97 631.4,424.7 C638.85,428.43 647.15,432.13 652.4,435.2 C657.65,438.27 660.27,440.03 662.9,443.1 C665.53,446.17 667.55,450.1 668.2,453.6 C668.85,457.1 668.12,461.03 666.8,464.1 C665.48,467.17 663.58,470.17 660.3,472 C657.02,473.83 651.92,474.45 647.1,475.1 C642.28,475.75 638.4,475.87 631.4,475.9 C624.4,475.93 613.67,475.42 605.1,475.3 C596.53,475.18 586.25,475.25 580,475.2 C573.75,475.15 572.1,475.32 567.6,475 C563.1,474.68 557.87,474.32 553,473.3 C548.13,472.28 543.27,470.73 538.4,468.9 C533.53,467.07 528.67,464.37 523.8,462.3 C518.93,460.23 513.5,458.3 509.2,456.5 C504.9,454.7 501.87,453.75 498,451.5 C494.13,449.25 489.78,445.47 486,443 C482.22,440.53 479.13,439.17 475.3,436.7 C471.47,434.23 466.02,430.12 463,428.2 C459.98,426.28 459.98,426.78 457.2,425.2 C454.42,423.62 449.92,421.03 446.3,418.7 C442.68,416.37 439.1,413.9 435.5,411.2 C431.9,408.5 427.77,405.22 424.7,402.5 C421.63,399.78 419.27,397.62 417.1,394.9 C414.93,392.18 412.97,389.27 411.7,386.2 C410.43,383.13 409.82,379.37 409.5,376.5 C409.18,373.63 409.43,371.17 409.8,369 C410.17,366.83 410.33,365.02 411.7,363.5Z" fill="#cccccc"/>
<g opacity="1">
<path d="M404.6,313.9 C404.97,309.62 405.13,309.63 406.2,307.5 C407.27,305.37 408.58,302.82 411,301.1 C413.42,299.38 415.33,298.28 420.7,297.2 C426.07,296.12 434.1,295.13 443.2,294.6 C452.3,294.07 465.67,293.57 475.3,294 C484.93,294.43 494.58,295.75 501,297.2 C507.42,298.65 508.98,299.65 513.8,302.7 C518.62,305.75 524.02,310.95 529.9,315.5 C535.78,320.05 541.62,324.38 549.1,330 C556.58,335.62 567.3,343.32 574.8,349.2 C582.3,355.08 589.4,360.5 594.1,365.3 C598.8,370.1 600.98,373.53 603,378 C605.02,382.47 605.52,387.43 606.2,392.1 C606.88,396.77 607.3,402.27 607.1,406 C606.9,409.73 606.33,412.43 605,414.5 C603.67,416.57 603.83,417.68 599.1,418.4 C594.37,419.12 585.7,419.53 576.6,418.8 C567.5,418.07 555.2,415.77 544.5,414 C533.8,412.23 523.1,410.13 512.4,408.2 C501.7,406.27 491,404.28 480.3,402.4 C469.6,400.52 457.3,398.88 448.2,396.9 C439.1,394.92 431.6,393.43 425.7,390.5 C419.8,387.57 415.83,384.03 412.8,379.3 C409.77,374.57 408.87,367.12 407.5,362.1 C406.13,357.08 405.18,354.02 404.6,349.2 C404.02,344.38 404,339.08 404,333.2 C404,327.32 404.23,318.18 404.6,313.9Z" fill="rgba(255,0,0,0.2)"/>
</g>
<line x1="395" y1="499.4" x2="400.2" y2="499.4" stroke="#333" stroke-width="1"/>
<text transform="translate(390,503.9) scale(0.96,1)" font-size="12.5" text-anchor="end" >0</text>
<line x1="395" y1="460.22" x2="400.2" y2="460.22" stroke="#333" stroke-width="1"/>
<text transform="translate(390,464.72) scale(0.96,1)" font-size="12.5" text-anchor="end" >0.5</text>
<line x1="395" y1="421.04" x2="400.2" y2="421.04" stroke="#333" stroke-width="1"/>
<text transform="translate(390,425.54) scale(0.96,1)" font-size="12.5" text-anchor="end" >1</text>
<line x1="395" y1="381.86" x2="400.2" y2="381.86" stroke="#333" stroke-width="1"/>
<text transform="translate(390,386.36) scale(0.96,1)" font-size="12.5" text-anchor="end" >1.5</text>
<line x1="395" y1="342.68" x2="400.2" y2="342.68" stroke="#333" stroke-width="1"/>
<text transform="translate(390,347.18) scale(0.96,1)" font-size="12.5" text-anchor="end" >2</text>
<line x1="395" y1="303.5" x2="400.2" y2="303.5" stroke="#333" stroke-width="1"/>
<text transform="translate(390,308) scale(0.96,1)" font-size="12.5" text-anchor="end" >2.5</text>
<line x1="395" y1="479.81" x2="397.6" y2="479.81" stroke="#333" stroke-width="1"/>
<line x1="395" y1="440.63" x2="397.6" y2="440.63" stroke="#333" stroke-width="1"/>
<line x1="395" y1="401.45" x2="397.6" y2="401.45" stroke="#333" stroke-width="1"/>
<line x1="395" y1="362.27" x2="397.6" y2="362.27" stroke="#333" stroke-width="1"/>
<line x1="395" y1="323.09" x2="397.6" y2="323.09" stroke="#333" stroke-width="1"/>
<line x1="415" y1="499.5" x2="415" y2="494.1" stroke="#333" stroke-width="1"/>
<text transform="translate(415,514.4) scale(0.96,1)" font-size="12.5" text-anchor="middle" >0.7</text>
<line x1="455.39" y1="499.5" x2="455.39" y2="494.1" stroke="#333" stroke-width="1"/>
<text transform="translate(455.39,514.4) scale(0.96,1)" font-size="12.5" text-anchor="middle" >0.75</text>
<line x1="495.77" y1="499.5" x2="495.77" y2="494.1" stroke="#333" stroke-width="1"/>
<text transform="translate(495.77,514.4) scale(0.96,1)" font-size="12.5" text-anchor="middle" >0.8</text>
<line x1="536.15" y1="499.5" x2="536.15" y2="494.1" stroke="#333" stroke-width="1"/>
<text transform="translate(536.15,514.4) scale(0.96,1)" font-size="12.5" text-anchor="middle" >0.85</text>
<line x1="576.54" y1="499.5" x2="576.54" y2="494.1" stroke="#333" stroke-width="1"/>
<text transform="translate(576.54,514.4) scale(0.96,1)" font-size="12.5" text-anchor="middle" >0.9</text>
<line x1="616.92" y1="499.5" x2="616.92" y2="494.1" stroke="#333" stroke-width="1"/>
<text transform="translate(616.92,514.4) scale(0.96,1)" font-size="12.5" text-anchor="middle" >0.95</text>
<line x1="657.31" y1="499.5" x2="657.31" y2="494.1" stroke="#333" stroke-width="1"/>
<text transform="translate(657.31,514.4) scale(0.96,1)" font-size="12.5" text-anchor="middle" >1</text>
<line x1="435.19" y1="499.5" x2="435.19" y2="496.9" stroke="#333" stroke-width="1"/>
<line x1="475.58" y1="499.5" x2="475.58" y2="496.9" stroke="#333" stroke-width="1"/>
<line x1="515.96" y1="499.5" x2="515.96" y2="496.9" stroke="#333" stroke-width="1"/>
<line x1="556.35" y1="499.5" x2="556.35" y2="496.9" stroke="#333" stroke-width="1"/>
<line x1="596.73" y1="499.5" x2="596.73" y2="496.9" stroke="#333" stroke-width="1"/>
<line x1="637.12" y1="499.5" x2="637.12" y2="496.9" stroke="#333" stroke-width="1"/>
<path d="M395,287.9 V500 M394.4,499.5 H678 M677.5,500 V288 M678,288.5 H394.4" fill="none" stroke="#333" stroke-width="1.15"/>
<clipPath id="d1"><rect x="575.1" y="297.2" width="90.1" height="48.2"/></clipPath>
<rect x="575.1" y="297.2" width="90.1" height="48.2" fill="#fff"/>
<g clip-path="url(#d1)">
<circle cx="568.5" cy="278.7" r="6.3" fill="url(#gTan)"/>
<circle cx="582.3" cy="278.7" r="6.3" fill="url(#gTan)"/>
<circle cx="596.1" cy="278.7" r="6.3" fill="url(#gTan)"/>
<circle cx="609.9" cy="278.7" r="6.3" fill="url(#gTan)"/>
<circle cx="623.7" cy="278.7" r="6.3" fill="url(#gTan)"/>
<circle cx="637.5" cy="278.7" r="6.3" fill="url(#gTan)"/>
<circle cx="651.3" cy="278.7" r="6.3" fill="url(#gTan)"/>
<circle cx="665.1" cy="278.7" r="6.3" fill="url(#gTan)"/>
<circle cx="678.9" cy="278.7" r="6.3" fill="url(#gTan)"/>
<circle cx="561.6" cy="290.3" r="6.3" fill="url(#gTan)"/>
<circle cx="575.4" cy="290.3" r="6.3" fill="url(#gTan)"/>
<circle cx="589.2" cy="290.3" r="6.3" fill="url(#gTan)"/>
<circle cx="603" cy="290.3" r="6.3" fill="url(#gTan)"/>
<circle cx="616.8" cy="290.3" r="6.3" fill="url(#gTan)"/>
<circle cx="630.6" cy="290.3" r="6.3" fill="url(#gTan)"/>
<circle cx="644.4" cy="290.3" r="6.3" fill="url(#gTan)"/>
<circle cx="658.2" cy="290.3" r="6.3" fill="url(#gTan)"/>
<circle cx="672" cy="290.3" r="6.3" fill="url(#gTan)"/>
<circle cx="568.5" cy="301.9" r="6.3" fill="url(#gTan)"/>
<circle cx="582.3" cy="301.9" r="6.3" fill="url(#gTan)"/>
<circle cx="596.1" cy="301.9" r="6.3" fill="url(#gTan)"/>
<circle cx="609.9" cy="301.9" r="6.3" fill="url(#gTan)"/>
<circle cx="623.7" cy="301.9" r="6.3" fill="url(#gTan)"/>
<circle cx="637.5" cy="301.9" r="6.3" fill="url(#gTan)"/>
<circle cx="651.3" cy="301.9" r="6.3" fill="url(#gTan)"/>
<circle cx="665.1" cy="301.9" r="6.3" fill="url(#gTan)"/>
<circle cx="678.9" cy="301.9" r="6.3" fill="url(#gTan)"/>
<circle cx="561.6" cy="313.5" r="6.3" fill="url(#gTan)"/>
<circle cx="575.4" cy="313.5" r="6.3" fill="url(#gTan)"/>
<circle cx="589.2" cy="313.5" r="6.3" fill="url(#gTan)"/>
<circle cx="603" cy="313.5" r="6.3" fill="url(#gTan)"/>
<circle cx="616.8" cy="313.5" r="6.3" fill="url(#gTan)"/>
<circle cx="630.6" cy="313.5" r="6.3" fill="url(#gTan)"/>
<circle cx="644.4" cy="313.5" r="6.3" fill="url(#gTan)"/>
<circle cx="658.2" cy="313.5" r="6.3" fill="url(#gTan)"/>
<circle cx="672" cy="313.5" r="6.3" fill="url(#gTan)"/>
<circle cx="568.5" cy="325.1" r="6.3" fill="url(#gTan)"/>
<circle cx="582.3" cy="325.1" r="6.3" fill="url(#gTan)"/>
<circle cx="596.1" cy="325.1" r="6.3" fill="url(#gTan)"/>
<circle cx="609.9" cy="325.1" r="6.3" fill="url(#gTan)"/>
<circle cx="623.7" cy="325.1" r="6.3" fill="url(#gTan)"/>
<circle cx="637.5" cy="325.1" r="6.3" fill="url(#gTan)"/>
<circle cx="651.3" cy="325.1" r="6.3" fill="url(#gTan)"/>
<circle cx="665.1" cy="325.1" r="6.3" fill="url(#gTan)"/>
<circle cx="678.9" cy="325.1" r="6.3" fill="url(#gTan)"/>
<circle cx="561.6" cy="336.7" r="6.3" fill="url(#gTan)"/>
<circle cx="575.4" cy="336.7" r="6.3" fill="url(#gTan)"/>
<circle cx="589.2" cy="336.7" r="6.3" fill="url(#gTan)"/>
<circle cx="603" cy="336.7" r="6.3" fill="url(#gTan)"/>
<circle cx="616.8" cy="336.7" r="6.3" fill="url(#gTan)"/>
<circle cx="630.6" cy="336.7" r="6.3" fill="url(#gTan)"/>
<circle cx="644.4" cy="336.7" r="6.3" fill="url(#gTan)"/>
<circle cx="658.2" cy="336.7" r="6.3" fill="url(#gTan)"/>
<circle cx="672" cy="336.7" r="6.3" fill="url(#gTan)"/>
<circle cx="568.5" cy="348.3" r="6.3" fill="url(#gTan)"/>
<circle cx="582.3" cy="348.3" r="6.3" fill="url(#gTan)"/>
<circle cx="596.1" cy="348.3" r="6.3" fill="url(#gTan)"/>
<circle cx="609.9" cy="348.3" r="6.3" fill="url(#gTan)"/>
<circle cx="623.7" cy="348.3" r="6.3" fill="url(#gTan)"/>
<circle cx="637.5" cy="348.3" r="6.3" fill="url(#gTan)"/>
<circle cx="651.3" cy="348.3" r="6.3" fill="url(#gTan)"/>
<circle cx="665.1" cy="348.3" r="6.3" fill="url(#gTan)"/>
<circle cx="678.9" cy="348.3" r="6.3" fill="url(#gTan)"/>
<circle cx="568.5" cy="286.4" r="3.4" fill="none" stroke="#222" stroke-width="0.6"/>
<circle cx="582.3" cy="286.4" r="3.6" fill="url(#gBrown)"/>
<circle cx="596.1" cy="286.4" r="3.6" fill="url(#gBrown)"/>
<circle cx="609.9" cy="286.4" r="3.4" fill="none" stroke="#222" stroke-width="0.6"/>
<circle cx="623.7" cy="286.4" r="3.6" fill="url(#gBrown)"/>
<circle cx="637.5" cy="286.4" r="3.6" fill="url(#gBrown)"/>
<circle cx="651.3" cy="286.4" r="3.4" fill="none" stroke="#222" stroke-width="0.6"/>
<circle cx="665.1" cy="286.4" r="3.6" fill="url(#gBrown)"/>
<circle cx="678.9" cy="286.4" r="3.6" fill="url(#gBrown)"/>
<circle cx="561.6" cy="298" r="3.6" fill="url(#gBrown)"/>
<circle cx="575.4" cy="298" r="3.6" fill="url(#gBrown)"/>
<circle cx="589.2" cy="298" r="3.4" fill="none" stroke="#222" stroke-width="0.6"/>
<circle cx="603" cy="298" r="3.6" fill="url(#gBrown)"/>
<circle cx="616.8" cy="298" r="3.6" fill="url(#gBrown)"/>
<circle cx="630.6" cy="298" r="3.4" fill="none" stroke="#222" stroke-width="0.6"/>
<circle cx="644.4" cy="298" r="3.6" fill="url(#gBrown)"/>
<circle cx="658.2" cy="298" r="3.6" fill="url(#gBrown)"/>
<circle cx="672" cy="298" r="3.4" fill="none" stroke="#222" stroke-width="0.6"/>
<circle cx="568.5" cy="309.6" r="3.4" fill="none" stroke="#222" stroke-width="0.6"/>
<circle cx="582.3" cy="309.6" r="3.6" fill="url(#gBrown)"/>
<circle cx="596.1" cy="309.6" r="3.6" fill="url(#gBrown)"/>
<circle cx="609.9" cy="309.6" r="3.4" fill="none" stroke="#222" stroke-width="0.6"/>
<circle cx="623.7" cy="309.6" r="3.6" fill="url(#gBrown)"/>
<circle cx="637.5" cy="309.6" r="3.6" fill="url(#gBrown)"/>
<circle cx="651.3" cy="309.6" r="3.4" fill="none" stroke="#222" stroke-width="0.6"/>
<circle cx="665.1" cy="309.6" r="3.6" fill="url(#gBrown)"/>
<circle cx="678.9" cy="309.6" r="3.6" fill="url(#gBrown)"/>
<circle cx="561.6" cy="321.2" r="3.6" fill="url(#gBrown)"/>
<circle cx="575.4" cy="321.2" r="3.6" fill="url(#gBrown)"/>
<circle cx="589.2" cy="321.2" r="3.4" fill="none" stroke="#222" stroke-width="0.6"/>
<circle cx="603" cy="321.2" r="3.6" fill="url(#gBrown)"/>
<circle cx="616.8" cy="321.2" r="3.6" fill="url(#gBrown)"/>
<circle cx="630.6" cy="321.2" r="3.4" fill="none" stroke="#222" stroke-width="0.6"/>
<circle cx="644.4" cy="321.2" r="3.6" fill="url(#gBrown)"/>
<circle cx="658.2" cy="321.2" r="3.6" fill="url(#gBrown)"/>
<circle cx="672" cy="321.2" r="3.4" fill="none" stroke="#222" stroke-width="0.6"/>
<circle cx="568.5" cy="332.8" r="3.4" fill="none" stroke="#222" stroke-width="0.6"/>
<circle cx="582.3" cy="332.8" r="3.6" fill="url(#gBrown)"/>
<circle cx="596.1" cy="332.8" r="3.6" fill="url(#gBrown)"/>
<circle cx="609.9" cy="332.8" r="3.4" fill="none" stroke="#222" stroke-width="0.6"/>
<circle cx="623.7" cy="332.8" r="3.6" fill="url(#gBrown)"/>
<circle cx="637.5" cy="332.8" r="3.6" fill="url(#gBrown)"/>
<circle cx="651.3" cy="332.8" r="3.4" fill="none" stroke="#222" stroke-width="0.6"/>
<circle cx="665.1" cy="332.8" r="3.6" fill="url(#gBrown)"/>
<circle cx="678.9" cy="332.8" r="3.6" fill="url(#gBrown)"/>
<circle cx="561.6" cy="344.4" r="3.6" fill="url(#gBrown)"/>
<circle cx="575.4" cy="344.4" r="3.6" fill="url(#gBrown)"/>
<circle cx="589.2" cy="344.4" r="3.4" fill="none" stroke="#222" stroke-width="0.6"/>
<circle cx="603" cy="344.4" r="3.6" fill="url(#gBrown)"/>
<circle cx="616.8" cy="344.4" r="3.6" fill="url(#gBrown)"/>
<circle cx="630.6" cy="344.4" r="3.4" fill="none" stroke="#222" stroke-width="0.6"/>
<circle cx="644.4" cy="344.4" r="3.6" fill="url(#gBrown)"/>
<circle cx="658.2" cy="344.4" r="3.6" fill="url(#gBrown)"/>
<circle cx="672" cy="344.4" r="3.4" fill="none" stroke="#222" stroke-width="0.6"/>
<circle cx="568.5" cy="356" r="3.4" fill="none" stroke="#222" stroke-width="0.6"/>
<circle cx="582.3" cy="356" r="3.6" fill="url(#gBrown)"/>
<circle cx="596.1" cy="356" r="3.6" fill="url(#gBrown)"/>
<circle cx="609.9" cy="356" r="3.4" fill="none" stroke="#222" stroke-width="0.6"/>
<circle cx="623.7" cy="356" r="3.6" fill="url(#gBrown)"/>
<circle cx="637.5" cy="356" r="3.6" fill="url(#gBrown)"/>
<circle cx="651.3" cy="356" r="3.4" fill="none" stroke="#222" stroke-width="0.6"/>
<circle cx="665.1" cy="356" r="3.6" fill="url(#gBrown)"/>
<circle cx="678.9" cy="356" r="3.6" fill="url(#gBrown)"/>
</g>
<rect x="575.1" y="297.2" width="90.1" height="48.2" fill="none" stroke="#555" stroke-width="0.8"/>
<clipPath id="d2"><rect x="407.2" y="440.3" width="90.3" height="47.3"/></clipPath>
<rect x="407.2" y="440.3" width="90.3" height="47.3" fill="#fff"/>
<g clip-path="url(#d2)">
<circle cx="400.6" cy="421.8" r="6.3" fill="url(#gTan)"/>
<circle cx="414.4" cy="421.8" r="6.3" fill="url(#gTan)"/>
<circle cx="428.2" cy="421.8" r="6.3" fill="url(#gTan)"/>
<circle cx="442" cy="421.8" r="6.3" fill="url(#gTan)"/>
<circle cx="455.8" cy="421.8" r="6.3" fill="url(#gTan)"/>
<circle cx="469.6" cy="421.8" r="6.3" fill="url(#gTan)"/>
<circle cx="483.4" cy="421.8" r="6.3" fill="url(#gTan)"/>
<circle cx="497.2" cy="421.8" r="6.3" fill="url(#gTan)"/>
<circle cx="511" cy="421.8" r="6.3" fill="url(#gTan)"/>
<circle cx="393.7" cy="433.4" r="6.3" fill="url(#gTan)"/>
<circle cx="407.5" cy="433.4" r="6.3" fill="url(#gTan)"/>
<circle cx="421.3" cy="433.4" r="6.3" fill="url(#gTan)"/>
<circle cx="435.1" cy="433.4" r="6.3" fill="url(#gTan)"/>
<circle cx="448.9" cy="433.4" r="6.3" fill="url(#gTan)"/>
<circle cx="462.7" cy="433.4" r="6.3" fill="url(#gTan)"/>
<circle cx="476.5" cy="433.4" r="6.3" fill="url(#gTan)"/>
<circle cx="490.3" cy="433.4" r="6.3" fill="url(#gTan)"/>
<circle cx="504.1" cy="433.4" r="6.3" fill="url(#gTan)"/>
<circle cx="400.6" cy="445" r="6.3" fill="url(#gTan)"/>
<circle cx="414.4" cy="445" r="6.3" fill="url(#gTan)"/>
<circle cx="428.2" cy="445" r="6.3" fill="url(#gTan)"/>
<circle cx="442" cy="445" r="6.3" fill="url(#gTan)"/>
<circle cx="455.8" cy="445" r="6.3" fill="url(#gTan)"/>
<circle cx="469.6" cy="445" r="6.3" fill="url(#gTan)"/>
<circle cx="483.4" cy="445" r="6.3" fill="url(#gTan)"/>
<circle cx="497.2" cy="445" r="6.3" fill="url(#gTan)"/>
<circle cx="511" cy="445" r="6.3" fill="url(#gTan)"/>
<circle cx="393.7" cy="456.6" r="6.3" fill="url(#gTan)"/>
<circle cx="407.5" cy="456.6" r="6.3" fill="url(#gTan)"/>
<circle cx="421.3" cy="456.6" r="6.3" fill="url(#gTan)"/>
<circle cx="435.1" cy="456.6" r="6.3" fill="url(#gTan)"/>
<circle cx="448.9" cy="456.6" r="6.3" fill="url(#gTan)"/>
<circle cx="462.7" cy="456.6" r="6.3" fill="url(#gTan)"/>
<circle cx="476.5" cy="456.6" r="6.3" fill="url(#gTan)"/>
<circle cx="490.3" cy="456.6" r="6.3" fill="url(#gTan)"/>
<circle cx="504.1" cy="456.6" r="6.3" fill="url(#gTan)"/>
<circle cx="400.6" cy="468.2" r="6.3" fill="url(#gTan)"/>
<circle cx="414.4" cy="468.2" r="6.3" fill="url(#gTan)"/>
<circle cx="428.2" cy="468.2" r="6.3" fill="url(#gTan)"/>
<circle cx="442" cy="468.2" r="6.3" fill="url(#gTan)"/>
<circle cx="455.8" cy="468.2" r="6.3" fill="url(#gTan)"/>
<circle cx="469.6" cy="468.2" r="6.3" fill="url(#gTan)"/>
<circle cx="483.4" cy="468.2" r="6.3" fill="url(#gTan)"/>
<circle cx="497.2" cy="468.2" r="6.3" fill="url(#gTan)"/>
<circle cx="511" cy="468.2" r="6.3" fill="url(#gTan)"/>
<circle cx="393.7" cy="479.8" r="6.3" fill="url(#gTan)"/>
<circle cx="407.5" cy="479.8" r="6.3" fill="url(#gTan)"/>
<circle cx="421.3" cy="479.8" r="6.3" fill="url(#gTan)"/>
<circle cx="435.1" cy="479.8" r="6.3" fill="url(#gTan)"/>
<circle cx="448.9" cy="479.8" r="6.3" fill="url(#gTan)"/>
<circle cx="462.7" cy="479.8" r="6.3" fill="url(#gTan)"/>
<circle cx="476.5" cy="479.8" r="6.3" fill="url(#gTan)"/>
<circle cx="490.3" cy="479.8" r="6.3" fill="url(#gTan)"/>
<circle cx="504.1" cy="479.8" r="6.3" fill="url(#gTan)"/>
<circle cx="400.6" cy="491.4" r="6.3" fill="url(#gTan)"/>
<circle cx="414.4" cy="491.4" r="6.3" fill="url(#gTan)"/>
<circle cx="428.2" cy="491.4" r="6.3" fill="url(#gTan)"/>
<circle cx="442" cy="491.4" r="6.3" fill="url(#gTan)"/>
<circle cx="455.8" cy="491.4" r="6.3" fill="url(#gTan)"/>
<circle cx="469.6" cy="491.4" r="6.3" fill="url(#gTan)"/>
<circle cx="483.4" cy="491.4" r="6.3" fill="url(#gTan)"/>
<circle cx="497.2" cy="491.4" r="6.3" fill="url(#gTan)"/>
<circle cx="511" cy="491.4" r="6.3" fill="url(#gTan)"/>
<circle cx="400.6" cy="429.5" r="3.6" fill="url(#gBrown)"/>
<circle cx="414.4" cy="429.5" r="3.6" fill="url(#gBrown)"/>
<circle cx="428.2" cy="429.5" r="3.6" fill="url(#gBrown)"/>
<circle cx="442" cy="429.5" r="3.6" fill="url(#gBrown)"/>
<circle cx="455.8" cy="429.5" r="3.6" fill="url(#gBrown)"/>
<circle cx="469.6" cy="429.5" r="3.6" fill="url(#gBrown)"/>
<circle cx="483.4" cy="429.5" r="3.6" fill="url(#gBrown)"/>
<circle cx="497.2" cy="429.5" r="3.6" fill="url(#gBrown)"/>
<circle cx="511" cy="429.5" r="3.6" fill="url(#gBrown)"/>
<circle cx="393.7" cy="441.1" r="3.6" fill="url(#gBrown)"/>
<circle cx="407.5" cy="441.1" r="3.6" fill="url(#gBrown)"/>
<circle cx="421.3" cy="441.1" r="3.6" fill="url(#gBrown)"/>
<circle cx="435.1" cy="441.1" r="3.6" fill="url(#gBrown)"/>
<circle cx="448.9" cy="441.1" r="3.6" fill="url(#gBrown)"/>
<circle cx="462.7" cy="441.1" r="3.6" fill="url(#gBrown)"/>
<circle cx="476.5" cy="441.1" r="3.6" fill="url(#gBrown)"/>
<circle cx="490.3" cy="441.1" r="3.6" fill="url(#gBrown)"/>
<circle cx="504.1" cy="441.1" r="3.6" fill="url(#gBrown)"/>
<circle cx="400.6" cy="452.7" r="3.6" fill="url(#gBrown)"/>
<circle cx="414.4" cy="452.7" r="3.6" fill="url(#gBrown)"/>
<circle cx="428.2" cy="452.7" r="3.6" fill="url(#gBrown)"/>
<circle cx="442" cy="452.7" r="3.6" fill="url(#gBrown)"/>
<circle cx="455.8" cy="452.7" r="3.6" fill="url(#gBrown)"/>
<circle cx="469.6" cy="452.7" r="3.6" fill="url(#gBrown)"/>
<circle cx="483.4" cy="452.7" r="3.6" fill="url(#gBrown)"/>
<circle cx="497.2" cy="452.7" r="3.6" fill="url(#gBrown)"/>
<circle cx="511" cy="452.7" r="3.6" fill="url(#gBrown)"/>
<circle cx="393.7" cy="464.3" r="3.6" fill="url(#gBrown)"/>
<circle cx="407.5" cy="464.3" r="3.6" fill="url(#gBrown)"/>
<circle cx="421.3" cy="464.3" r="3.6" fill="url(#gBrown)"/>
<circle cx="435.1" cy="464.3" r="3.6" fill="url(#gBrown)"/>
<circle cx="448.9" cy="464.3" r="3.6" fill="url(#gBrown)"/>
<circle cx="462.7" cy="464.3" r="3.6" fill="url(#gBrown)"/>
<circle cx="476.5" cy="464.3" r="3.6" fill="url(#gBrown)"/>
<circle cx="490.3" cy="464.3" r="3.6" fill="url(#gBrown)"/>
<circle cx="504.1" cy="464.3" r="3.6" fill="url(#gBrown)"/>
<circle cx="400.6" cy="475.9" r="3.6" fill="url(#gBrown)"/>
<circle cx="414.4" cy="475.9" r="3.6" fill="url(#gBrown)"/>
<circle cx="428.2" cy="475.9" r="3.6" fill="url(#gBrown)"/>
<circle cx="442" cy="475.9" r="3.6" fill="url(#gBrown)"/>
<circle cx="455.8" cy="475.9" r="3.6" fill="url(#gBrown)"/>
<circle cx="469.6" cy="475.9" r="3.6" fill="url(#gBrown)"/>
<circle cx="483.4" cy="475.9" r="3.6" fill="url(#gBrown)"/>
<circle cx="497.2" cy="475.9" r="3.6" fill="url(#gBrown)"/>
<circle cx="511" cy="475.9" r="3.6" fill="url(#gBrown)"/>
<circle cx="393.7" cy="487.5" r="3.6" fill="url(#gBrown)"/>
<circle cx="407.5" cy="487.5" r="3.6" fill="url(#gBrown)"/>
<circle cx="421.3" cy="487.5" r="3.6" fill="url(#gBrown)"/>
<circle cx="435.1" cy="487.5" r="3.6" fill="url(#gBrown)"/>
<circle cx="448.9" cy="487.5" r="3.6" fill="url(#gBrown)"/>
<circle cx="462.7" cy="487.5" r="3.6" fill="url(#gBrown)"/>
<circle cx="476.5" cy="487.5" r="3.6" fill="url(#gBrown)"/>
<circle cx="490.3" cy="487.5" r="3.6" fill="url(#gBrown)"/>
<circle cx="504.1" cy="487.5" r="3.6" fill="url(#gBrown)"/>
<circle cx="400.6" cy="499.1" r="3.6" fill="url(#gBrown)"/>
<circle cx="414.4" cy="499.1" r="3.6" fill="url(#gBrown)"/>
<circle cx="428.2" cy="499.1" r="3.6" fill="url(#gBrown)"/>
<circle cx="442" cy="499.1" r="3.6" fill="url(#gBrown)"/>
<circle cx="455.8" cy="499.1" r="3.6" fill="url(#gBrown)"/>
<circle cx="469.6" cy="499.1" r="3.6" fill="url(#gBrown)"/>
<circle cx="483.4" cy="499.1" r="3.6" fill="url(#gBrown)"/>
<circle cx="497.2" cy="499.1" r="3.6" fill="url(#gBrown)"/>
<circle cx="511" cy="499.1" r="3.6" fill="url(#gBrown)"/>
</g>
<rect x="407.2" y="440.3" width="90.3" height="47.3" fill="none" stroke="#555" stroke-width="0.8"/>
<circle cx="421.73" cy="369.32" r="3.3" fill="#000"/>
<circle cx="455.39" cy="367.21" r="3.3" fill="#000"/>
<circle cx="455.39" cy="370.65" r="3.3" fill="#000"/>
<circle cx="455.39" cy="374.26" r="3.3" fill="#000"/>
<circle cx="455.39" cy="410.07" r="3.3" fill="#000"/>
<circle cx="489.04" cy="369.32" r="3.3" fill="#000"/>
<circle cx="556.35" cy="452.38" r="3.3" fill="#000"/>
<circle cx="590" cy="450.03" r="3.3" fill="#000"/>
<circle cx="590" cy="460.22" r="3.3" fill="#000"/>
<circle cx="623.66" cy="449.25" r="3.3" fill="#000"/>
<circle cx="623.66" cy="458.65" r="3.3" fill="#000"/>
<circle cx="623.66" cy="462.57" r="3.3" fill="#000"/>
<circle cx="421.73" cy="309.77" r="2.55" fill="#ff0000" stroke="#000" stroke-width="1.15"/>
<circle cx="421.73" cy="312.12" r="2.55" fill="#ff0000" stroke="#000" stroke-width="1.15"/>
<circle cx="421.73" cy="316.04" r="2.55" fill="#ff0000" stroke="#000" stroke-width="1.15"/>
<circle cx="421.73" cy="336.41" r="2.55" fill="#ff0000" stroke="#000" stroke-width="1.15"/>
<circle cx="421.73" cy="349.73" r="2.55" fill="#ff0000" stroke="#000" stroke-width="1.15"/>
<circle cx="455.39" cy="308.99" r="2.55" fill="#ff0000" stroke="#000" stroke-width="1.15"/>
<circle cx="455.39" cy="311.34" r="2.55" fill="#ff0000" stroke="#000" stroke-width="1.15"/>
<circle cx="455.39" cy="316.82" r="2.55" fill="#ff0000" stroke="#000" stroke-width="1.15"/>
<circle cx="455.39" cy="320.74" r="2.55" fill="#ff0000" stroke="#000" stroke-width="1.15"/>
<circle cx="455.39" cy="331.71" r="2.55" fill="#ff0000" stroke="#000" stroke-width="1.15"/>
<circle cx="455.39" cy="335.63" r="2.55" fill="#ff0000" stroke="#000" stroke-width="1.15"/>
<circle cx="455.39" cy="343.46" r="2.55" fill="#ff0000" stroke="#000" stroke-width="1.15"/>
<circle cx="455.39" cy="348.17" r="2.55" fill="#ff0000" stroke="#000" stroke-width="1.15"/>
<circle cx="455.39" cy="350.52" r="2.55" fill="#ff0000" stroke="#000" stroke-width="1.15"/>
<circle cx="455.39" cy="355.22" r="2.55" fill="#ff0000" stroke="#000" stroke-width="1.15"/>
<circle cx="455.39" cy="378.1" r="2.55" fill="#ff0000" stroke="#000" stroke-width="1.15"/>
<circle cx="489.04" cy="308.99" r="2.55" fill="#ff0000" stroke="#000" stroke-width="1.15"/>
<circle cx="489.04" cy="314.47" r="2.55" fill="#ff0000" stroke="#000" stroke-width="1.15"/>
<circle cx="489.04" cy="334.06" r="2.55" fill="#ff0000" stroke="#000" stroke-width="1.15"/>
<circle cx="489.04" cy="349.73" r="2.55" fill="#ff0000" stroke="#000" stroke-width="1.15"/>
<circle cx="556.35" cy="377.39" r="2.55" fill="#ff0000" stroke="#000" stroke-width="1.15"/>
<circle cx="556.35" cy="384.99" r="2.55" fill="#ff0000" stroke="#000" stroke-width="1.15"/>
<circle cx="556.35" cy="392.05" r="2.55" fill="#ff0000" stroke="#000" stroke-width="1.15"/>
<circle cx="590" cy="383.04" r="2.55" fill="#ff0000" stroke="#000" stroke-width="1.15"/>
<circle cx="590" cy="392.83" r="2.55" fill="#ff0000" stroke="#000" stroke-width="1.15"/>
<circle cx="590" cy="396.75" r="2.55" fill="#ff0000" stroke="#000" stroke-width="1.15"/>
<rect x="520.09" y="376.6" width="5.2" height="5.2" fill="#ff0000" stroke="#000" stroke-width="1.1"/>
<rect x="654.51" y="453.82" width="5.6" height="5.6" fill="#000" stroke="#000" stroke-width="1.1"/>
<line x1="575.2" y1="334.5" x2="564.22" y2="342.63" stroke="#000" stroke-width="1"/>
<polygon points="559.4,346.2 563.18,339.54 566.87,344.53" fill="#000"/>
<line x1="510.6" y1="403.1" x2="517.79" y2="391.23" stroke="#000" stroke-width="1"/>
<polygon points="520.9,386.1 519.92,393.69 514.62,390.48" fill="#000"/>
<line x1="649.8" y1="433.9" x2="653.59" y2="445.21" stroke="#000" stroke-width="1"/>
<polygon points="655.5,450.9 650.34,445.25 656.21,443.28" fill="#000"/>
<line x1="498" y1="451.8" x2="508.64" y2="445.47" stroke="#000" stroke-width="1"/>
<polygon points="513.8,442.4 509.37,448.64 506.2,443.31" fill="#000"/>
<text x="529.5" y="359.5" font-size="12.2" text-anchor="start" textLength="137.5" lengthAdjust="spacingAndGlyphs" style="stroke-width:0.06px">carbon-depleted slip planes</text>
<text x="504.5" y="488" font-size="12.2" text-anchor="start" textLength="129.8" lengthAdjust="spacingAndGlyphs" style="stroke-width:0.06px">fully-populated slip planes</text>
<text x="480.6" y="411.8" font-size="13.2">Ta<tspan font-size="10" dy="2.8">6</tspan><tspan dy="-2.8">C</tspan><tspan font-size="10" dy="2.8">5</tspan></text>
<text x="640.2" y="431.2" font-size="12.8" text-anchor="start" >TaC</text>
<text transform="translate(366.0,393.7) rotate(-90)" font-size="14.5" text-anchor="middle"><tspan font-style="italic">γ</tspan><tspan font-size="10" dy="3">ISF</tspan><tspan dy="-3"> (J/m</tspan><tspan font-size="10.5" dy="-6">2</tspan><tspan dy="6">)</tspan></text>
<text x="535.8" y="533.9" font-size="15.6" text-anchor="middle"><tspan font-style="italic">x</tspan> = C/Ta</text>
<text x="543" y="551" font-size="14.5" text-anchor="middle" >(d)</text>
</svg>
</body></html>
